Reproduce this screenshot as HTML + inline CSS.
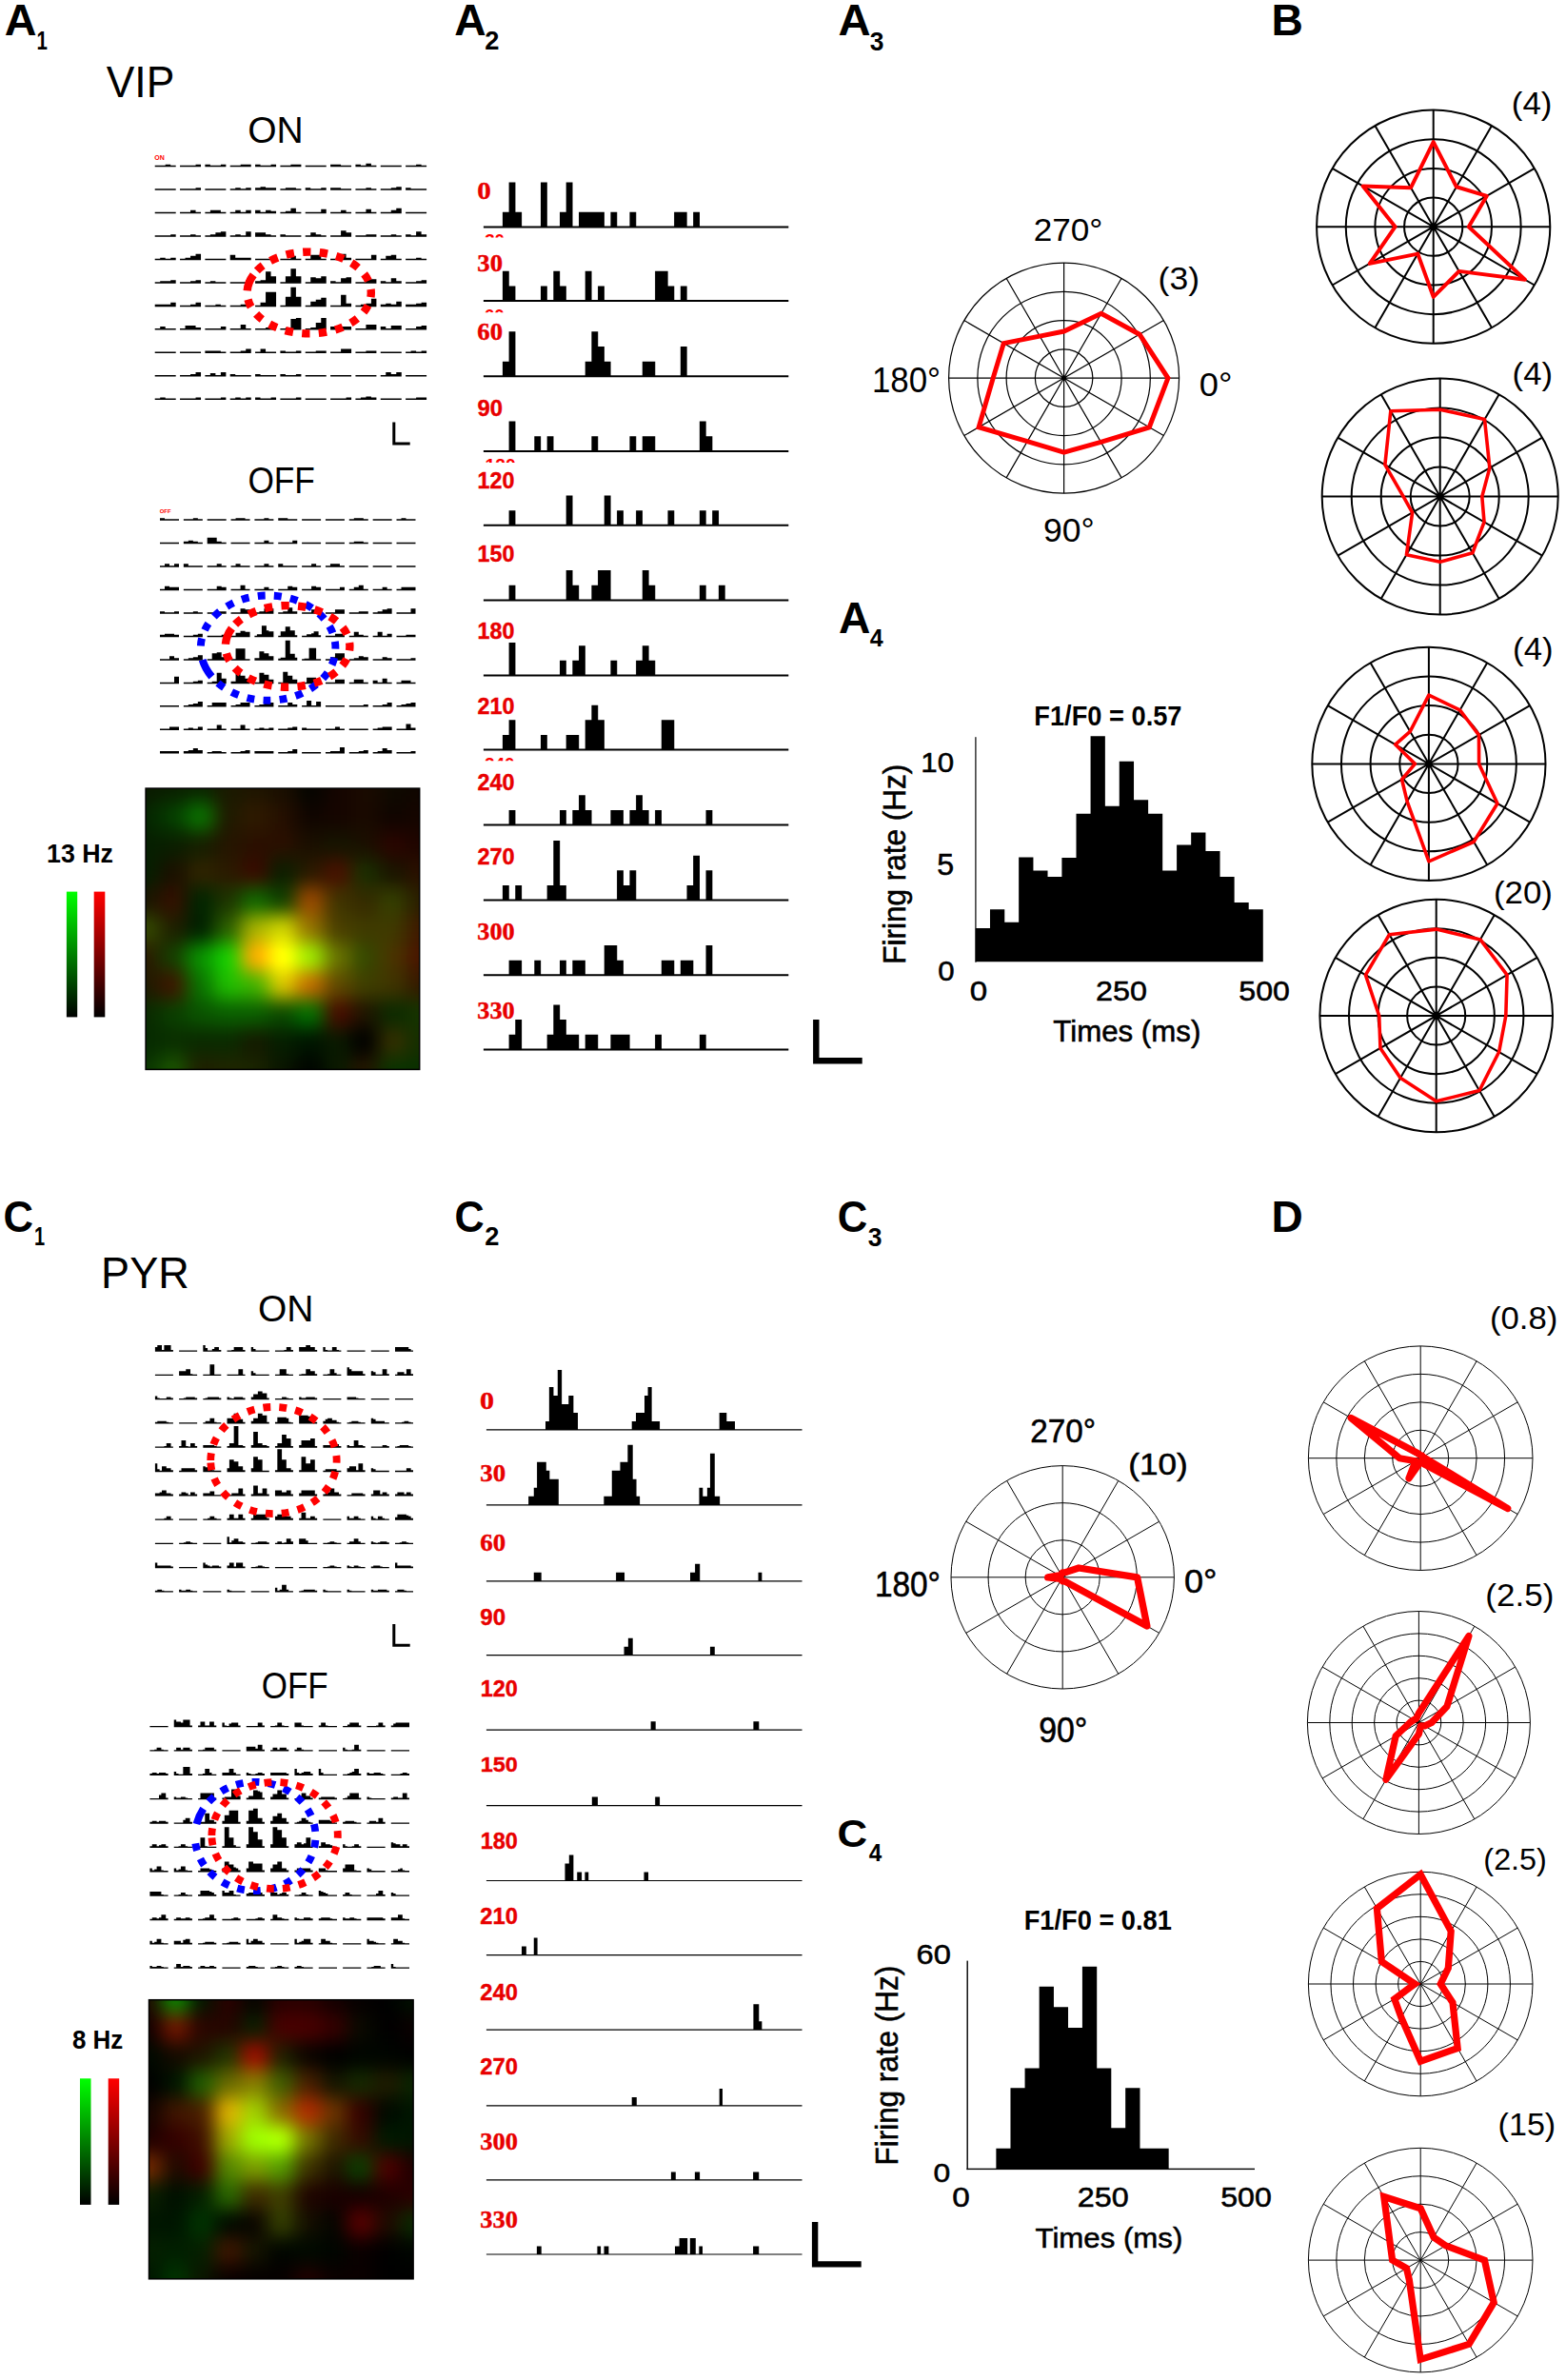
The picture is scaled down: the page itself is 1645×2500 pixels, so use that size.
<!DOCTYPE html>
<html lang="en"><head><meta charset="utf-8"><title>Figure</title>
<style>html,body{margin:0;padding:0;background:#fff}svg{display:block}</style></head>
<body>
<svg width="1645" height="2500" viewBox="0 0 1645 2500" font-family="Liberation Sans,sans-serif" shape-rendering="auto">
<rect width="1645" height="2500" fill="#fff"/>
<g id="panel-labels">
<text transform="translate(4.73 37.2) scale(0.4672 0.4536)" font-size="100" font-weight="bold">A</text>
<text transform="translate(38.47 52.4) scale(0.2043 0.2754)" font-size="100" font-weight="bold">1</text>
<text transform="translate(477.14 37.2) scale(0.4627 0.4536)" font-size="100" font-weight="bold">A</text>
<text transform="translate(509.34 52.4) scale(0.2729 0.2714)" font-size="100" font-weight="bold">2</text>
<text transform="translate(880.52 37.2) scale(0.4731 0.4536)" font-size="100" font-weight="bold">A</text>
<text transform="translate(913.84 52.53) scale(0.2646 0.2732)" font-size="100" font-weight="bold">3</text>
<text transform="translate(880.94 664.7) scale(0.4627 0.4536)" font-size="100" font-weight="bold">A</text>
<text transform="translate(913.72 679.1) scale(0.2505 0.2551)" font-size="100" font-weight="bold">4</text>
<text transform="translate(1335.6 37.2) scale(0.4623 0.4536)" font-size="100" font-weight="bold">B</text>
<text transform="translate(3.45 1294.04) scale(0.4366 0.4620)" font-size="100" font-weight="bold">C</text>
<text transform="translate(36 1308.3) scale(0.2000 0.2754)" font-size="100" font-weight="bold">1</text>
<text transform="translate(477.57 1294.04) scale(0.4321 0.4620)" font-size="100" font-weight="bold">C</text>
<text transform="translate(509.34 1308.3) scale(0.2729 0.2714)" font-size="100" font-weight="bold">2</text>
<text transform="translate(879.65 1294.04) scale(0.4366 0.4620)" font-size="100" font-weight="bold">C</text>
<text transform="translate(911.74 1308.73) scale(0.2646 0.2676)" font-size="100" font-weight="bold">3</text>
<text transform="translate(879.45 1940.49) scale(0.4382 0.4056)" font-size="100" font-weight="bold">C</text>
<text transform="translate(912.64 1954.9) scale(0.2430 0.2638)" font-size="100" font-weight="bold">4</text>
<text transform="translate(1335.41 1294.1) scale(0.4602 0.4696)" font-size="100" font-weight="bold">D</text>
</g>
<g id="titles">
<text transform="translate(111.78 101.7) scale(0.4437 0.4594)" font-size="100">VIP</text>
<text transform="translate(260.24 149.81) scale(0.3905 0.3887)" font-size="100">ON</text>
<text transform="translate(260.41 517.81) scale(0.3525 0.3887)" font-size="100">OFF</text>
<text transform="translate(106.1 1353.1) scale(0.4503 0.4551)" font-size="100">PYR</text>
<text transform="translate(271.05 1388.31) scale(0.3898 0.3901)" font-size="100">ON</text>
<text transform="translate(274.73 1784.32) scale(0.3499 0.3817)" font-size="100">OFF</text>
<text transform="translate(48.99 905.72) scale(0.2680 0.2817)" font-size="100" font-weight="bold">13 Hz</text>
<text transform="translate(75.92 2152.43) scale(0.2598 0.2704)" font-size="100" font-weight="bold">8 Hz</text>
<text transform="translate(162.22 167.63) scale(0.0703 0.0662)" font-size="100" font-weight="bold" fill="#f00">ON</text>
<text transform="translate(167.77 538.64) scale(0.0587 0.0606)" font-size="100" font-weight="bold" fill="#f00">OFF</text>
</g>
<path id="grid-A_ON" d="M162.7 173.75h22v1.5h-22zM173.7 172.75h5.5v2.5h-5.5zM189.04 173.75h22v1.5h-22zM205.54 172.75h5.5v2.5h-5.5zM215.38 173.75h22v1.5h-22zM215.38 172.75h5.5v2.5h-5.5zM231.88 172.75h5.5v2.5h-5.5zM241.72 173.75h22v1.5h-22zM252.72 172.75h11v2.5h-11zM268.06 173.75h22v1.5h-22zM268.06 172.75h5.5v2.5h-5.5zM284.56 172.75h5.5v2.5h-5.5zM294.4 173.75h22v1.5h-22zM305.4 172.75h11v2.5h-11zM320.74 173.75h22v1.5h-22zM347.08 173.75h22v1.5h-22zM347.08 172.75h11v2.5h-11zM373.42 173.75h22v1.5h-22zM373.42 172.75h5.5v2.5h-5.5zM384.42 171.75h5.5v3.5h-5.5zM399.76 173.75h22v1.5h-22zM426.1 173.75h22v1.5h-22zM437.1 172.75h5.5v2.5h-5.5zM162.7 198.23h22v1.5h-22zM189.04 198.23h22v1.5h-22zM205.54 197.23h5.5v2.5h-5.5zM215.38 198.23h22v1.5h-22zM241.72 198.23h22v1.5h-22zM247.22 197.23h5.5v2.5h-5.5zM258.22 197.23h5.5v2.5h-5.5zM268.06 198.23h22v1.5h-22zM268.06 197.23h5.5v2.5h-5.5zM273.56 196.23h5.5v3.5h-5.5zM279.06 197.23h11v2.5h-11zM294.4 198.23h22v1.5h-22zM299.9 197.23h11v2.5h-11zM320.74 198.23h22v1.5h-22zM320.74 197.23h5.5v2.5h-5.5zM337.24 197.23h5.5v2.5h-5.5zM347.08 198.23h22v1.5h-22zM347.08 197.23h11v2.5h-11zM373.42 198.23h22v1.5h-22zM384.42 197.23h5.5v2.5h-5.5zM399.76 198.23h22v1.5h-22zM410.76 197.23h5.5v2.5h-5.5zM416.26 196.23h5.5v3.5h-5.5zM426.1 198.23h22v1.5h-22zM426.1 197.23h5.5v2.5h-5.5zM162.7 222.71h22v1.5h-22zM189.04 222.71h22v1.5h-22zM200.04 220.71h5.5v3.5h-5.5zM215.38 222.71h22v1.5h-22zM220.88 220.71h11v3.5h-11zM241.72 222.71h22v1.5h-22zM247.22 220.71h5.5v3.5h-5.5zM258.22 220.71h5.5v3.5h-5.5zM268.06 222.71h22v1.5h-22zM268.06 220.71h5.5v3.5h-5.5zM279.06 220.71h5.5v3.5h-5.5zM284.56 221.71h5.5v2.5h-5.5zM294.4 222.71h22v1.5h-22zM299.9 221.71h5.5v2.5h-5.5zM305.4 218.71h5.5v5.5h-5.5zM320.74 222.71h22v1.5h-22zM337.24 219.71h5.5v4.5h-5.5zM347.08 222.71h22v1.5h-22zM358.08 220.71h5.5v3.5h-5.5zM373.42 222.71h22v1.5h-22zM384.42 219.71h5.5v4.5h-5.5zM399.76 222.71h22v1.5h-22zM410.76 220.71h5.5v3.5h-5.5zM416.26 218.71h5.5v5.5h-5.5zM426.1 222.71h22v1.5h-22zM162.7 247.19h22v1.5h-22zM179.2 246.19h5.5v2.5h-5.5zM189.04 247.19h22v1.5h-22zM200.04 246.19h5.5v2.5h-5.5zM215.38 247.19h22v1.5h-22zM220.88 246.19h5.5v2.5h-5.5zM226.38 244.19h5.5v4.5h-5.5zM231.88 243.19h5.5v5.5h-5.5zM241.72 247.19h22v1.5h-22zM247.22 246.19h5.5v2.5h-5.5zM258.22 243.19h5.5v5.5h-5.5zM268.06 247.19h22v1.5h-22zM268.06 244.19h11v4.5h-11zM279.06 246.19h5.5v2.5h-5.5zM294.4 247.19h22v1.5h-22zM294.4 246.19h5.5v2.5h-5.5zM320.74 247.19h22v1.5h-22zM326.24 244.19h5.5v4.5h-5.5zM331.74 246.19h5.5v2.5h-5.5zM347.08 247.19h22v1.5h-22zM358.08 242.19h5.5v6.5h-5.5zM363.58 244.19h5.5v4.5h-5.5zM373.42 247.19h22v1.5h-22zM384.42 246.19h11v2.5h-11zM399.76 247.19h22v1.5h-22zM410.76 246.19h5.5v2.5h-5.5zM426.1 247.19h22v1.5h-22zM426.1 246.19h5.5v2.5h-5.5zM437.1 243.19h5.5v5.5h-5.5zM442.6 246.19h5.5v2.5h-5.5zM162.7 271.67h22v1.5h-22zM168.2 270.67h5.5v2.5h-5.5zM179.2 270.67h5.5v2.5h-5.5zM189.04 271.67h22v1.5h-22zM194.54 270.67h5.5v2.5h-5.5zM200.04 268.67h5.5v4.5h-5.5zM205.54 266.67h5.5v6.5h-5.5zM215.38 271.67h22v1.5h-22zM241.72 271.67h22v1.5h-22zM241.72 267.67h5.5v5.5h-5.5zM247.22 270.67h16.5v2.5h-16.5zM268.06 271.67h22v1.5h-22zM294.4 271.67h22v1.5h-22zM305.4 268.67h5.5v4.5h-5.5zM320.74 271.67h22v1.5h-22zM326.24 267.67h11v5.5h-11zM347.08 271.67h22v1.5h-22zM358.08 266.67h5.5v6.5h-5.5zM363.58 270.67h5.5v2.5h-5.5zM373.42 271.67h22v1.5h-22zM389.92 267.67h5.5v5.5h-5.5zM399.76 271.67h22v1.5h-22zM405.26 268.67h5.5v4.5h-5.5zM410.76 267.67h5.5v5.5h-5.5zM426.1 271.67h22v1.5h-22zM437.1 270.67h5.5v2.5h-5.5zM162.7 296.15h22v1.5h-22zM168.2 295.15h11v2.5h-11zM179.2 294.15h5.5v3.5h-5.5zM189.04 296.15h22v1.5h-22zM200.04 295.15h5.5v2.5h-5.5zM205.54 294.15h5.5v3.5h-5.5zM215.38 296.15h22v1.5h-22zM220.88 295.15h5.5v2.5h-5.5zM241.72 296.15h22v1.5h-22zM258.22 294.15h5.5v3.5h-5.5zM268.06 296.15h22v1.5h-22zM268.06 295.15h5.5v2.5h-5.5zM273.56 294.15h5.5v3.5h-5.5zM279.06 285.15h5.5v12.5h-5.5zM284.56 290.15h5.5v7.5h-5.5zM294.4 296.15h22v1.5h-22zM299.9 290.15h5.5v7.5h-5.5zM305.4 282.15h5.5v15.5h-5.5zM310.9 290.15h5.5v7.5h-5.5zM320.74 296.15h22v1.5h-22zM326.24 291.15h5.5v6.5h-5.5zM331.74 292.15h5.5v5.5h-5.5zM337.24 290.15h5.5v7.5h-5.5zM347.08 296.15h22v1.5h-22zM347.08 295.15h5.5v2.5h-5.5zM358.08 292.15h5.5v5.5h-5.5zM363.58 291.15h5.5v6.5h-5.5zM373.42 296.15h22v1.5h-22zM384.42 293.15h11v4.5h-11zM399.76 296.15h22v1.5h-22zM399.76 295.15h5.5v2.5h-5.5zM410.76 292.15h5.5v5.5h-5.5zM416.26 295.15h5.5v2.5h-5.5zM426.1 296.15h22v1.5h-22zM437.1 295.15h5.5v2.5h-5.5zM442.6 294.15h5.5v3.5h-5.5zM162.7 320.63h22v1.5h-22zM162.7 319.63h16.5v2.5h-16.5zM179.2 317.63h5.5v4.5h-5.5zM189.04 320.63h22v1.5h-22zM200.04 319.63h5.5v2.5h-5.5zM205.54 317.63h5.5v4.5h-5.5zM215.38 320.63h22v1.5h-22zM226.38 319.63h5.5v2.5h-5.5zM241.72 320.63h22v1.5h-22zM252.72 319.63h11v2.5h-11zM268.06 320.63h22v1.5h-22zM273.56 317.63h5.5v4.5h-5.5zM279.06 306.63h11v15.5h-11zM294.4 320.63h22v1.5h-22zM299.9 311.63h5.5v10.5h-5.5zM305.4 301.63h5.5v20.5h-5.5zM310.9 311.63h5.5v10.5h-5.5zM320.74 320.63h22v1.5h-22zM326.24 316.63h5.5v5.5h-5.5zM331.74 314.63h5.5v7.5h-5.5zM337.24 312.63h5.5v9.5h-5.5zM347.08 320.63h22v1.5h-22zM358.08 309.63h5.5v12.5h-5.5zM363.58 318.63h5.5v3.5h-5.5zM373.42 320.63h22v1.5h-22zM378.92 319.63h5.5v2.5h-5.5zM384.42 318.63h5.5v3.5h-5.5zM389.92 313.63h5.5v8.5h-5.5zM399.76 320.63h22v1.5h-22zM399.76 319.63h5.5v2.5h-5.5zM405.26 318.63h5.5v3.5h-5.5zM410.76 319.63h5.5v2.5h-5.5zM416.26 316.63h5.5v5.5h-5.5zM426.1 320.63h22v1.5h-22zM426.1 319.63h11v2.5h-11zM437.1 318.63h5.5v3.5h-5.5zM442.6 317.63h5.5v4.5h-5.5zM162.7 345.11h22v1.5h-22zM168.2 343.11h5.5v3.5h-5.5zM189.04 345.11h22v1.5h-22zM194.54 342.11h11v4.5h-11zM205.54 344.11h5.5v2.5h-5.5zM215.38 345.11h22v1.5h-22zM231.88 343.11h5.5v3.5h-5.5zM241.72 345.11h22v1.5h-22zM252.72 341.11h5.5v5.5h-5.5zM268.06 345.11h22v1.5h-22zM279.06 344.11h5.5v2.5h-5.5zM284.56 342.11h5.5v4.5h-5.5zM294.4 345.11h22v1.5h-22zM299.9 344.11h5.5v2.5h-5.5zM305.4 335.11h5.5v11.5h-5.5zM310.9 334.11h5.5v12.5h-5.5zM320.74 345.11h22v1.5h-22zM326.24 344.11h5.5v2.5h-5.5zM331.74 339.11h5.5v7.5h-5.5zM337.24 334.11h5.5v12.5h-5.5zM347.08 345.11h22v1.5h-22zM347.08 343.11h5.5v3.5h-5.5zM358.08 343.11h11v3.5h-11zM373.42 345.11h22v1.5h-22zM384.42 341.11h11v5.5h-11zM399.76 345.11h22v1.5h-22zM399.76 343.11h5.5v3.5h-5.5zM410.76 342.11h11v4.5h-11zM426.1 345.11h22v1.5h-22zM437.1 343.11h5.5v3.5h-5.5zM442.6 342.11h5.5v4.5h-5.5zM162.7 369.59h22v1.5h-22zM189.04 369.59h22v1.5h-22zM215.38 369.59h22v1.5h-22zM215.38 368.59h16.5v2.5h-16.5zM241.72 369.59h22v1.5h-22zM252.72 368.59h5.5v2.5h-5.5zM258.22 366.59h5.5v4.5h-5.5zM268.06 369.59h22v1.5h-22zM273.56 366.59h5.5v4.5h-5.5zM294.4 369.59h22v1.5h-22zM294.4 368.59h5.5v2.5h-5.5zM310.9 368.59h5.5v2.5h-5.5zM320.74 369.59h22v1.5h-22zM331.74 368.59h11v2.5h-11zM347.08 369.59h22v1.5h-22zM358.08 366.59h11v4.5h-11zM373.42 369.59h22v1.5h-22zM384.42 368.59h11v2.5h-11zM399.76 369.59h22v1.5h-22zM426.1 369.59h22v1.5h-22zM431.6 368.59h5.5v2.5h-5.5zM442.6 368.59h5.5v2.5h-5.5zM162.7 394.07h22v1.5h-22zM189.04 394.07h22v1.5h-22zM200.04 393.07h5.5v2.5h-5.5zM205.54 391.07h5.5v4.5h-5.5zM215.38 394.07h22v1.5h-22zM220.88 392.07h5.5v3.5h-5.5zM231.88 391.07h5.5v4.5h-5.5zM241.72 394.07h22v1.5h-22zM241.72 393.07h5.5v2.5h-5.5zM268.06 394.07h22v1.5h-22zM268.06 393.07h5.5v2.5h-5.5zM294.4 394.07h22v1.5h-22zM294.4 393.07h5.5v2.5h-5.5zM310.9 393.07h5.5v2.5h-5.5zM320.74 394.07h22v1.5h-22zM347.08 394.07h22v1.5h-22zM373.42 394.07h22v1.5h-22zM399.76 394.07h22v1.5h-22zM405.26 391.07h5.5v4.5h-5.5zM410.76 393.07h5.5v2.5h-5.5zM416.26 391.07h5.5v4.5h-5.5zM426.1 394.07h22v1.5h-22zM162.7 418.55h22v1.5h-22zM168.2 417.55h5.5v2.5h-5.5zM189.04 418.55h22v1.5h-22zM205.54 417.55h5.5v2.5h-5.5zM215.38 418.55h22v1.5h-22zM231.88 417.55h5.5v2.5h-5.5zM241.72 418.55h22v1.5h-22zM247.22 417.55h5.5v2.5h-5.5zM258.22 417.55h5.5v2.5h-5.5zM268.06 418.55h22v1.5h-22zM268.06 417.55h5.5v2.5h-5.5zM284.56 417.55h5.5v2.5h-5.5zM294.4 418.55h22v1.5h-22zM310.9 417.55h5.5v2.5h-5.5zM320.74 418.55h22v1.5h-22zM347.08 418.55h22v1.5h-22zM363.58 417.55h5.5v2.5h-5.5zM373.42 418.55h22v1.5h-22zM378.92 417.55h5.5v2.5h-5.5zM384.42 416.55h5.5v3.5h-5.5zM389.92 417.55h5.5v2.5h-5.5zM399.76 418.55h22v1.5h-22zM426.1 418.55h22v1.5h-22zM437.1 417.55h11v2.5h-11z"/>
<path id="grid-A_OFF" d="M168 545.35h20v1.5h-20zM168 544.35h5v2.5h-5zM192.85 545.35h20v1.5h-20zM202.85 544.35h5v2.5h-5zM217.7 545.35h20v1.5h-20zM242.55 545.35h20v1.5h-20zM247.55 544.35h10v2.5h-10zM267.4 545.35h20v1.5h-20zM277.4 544.35h5v2.5h-5zM292.25 545.35h20v1.5h-20zM292.25 544.35h10v2.5h-10zM317.1 545.35h20v1.5h-20zM341.95 545.35h20v1.5h-20zM366.8 545.35h20v1.5h-20zM371.8 544.35h10v2.5h-10zM391.65 545.35h20v1.5h-20zM416.5 545.35h20v1.5h-20zM421.5 544.35h5v2.5h-5zM168 569.82h20v1.5h-20zM192.85 569.82h20v1.5h-20zM192.85 568.82h5v2.5h-5zM197.85 567.82h5v3.5h-5zM202.85 568.82h5v2.5h-5zM217.7 569.82h20v1.5h-20zM217.7 564.82h10v6.5h-10zM227.7 568.82h5v2.5h-5zM242.55 569.82h20v1.5h-20zM267.4 569.82h20v1.5h-20zM277.4 567.82h5v3.5h-5zM292.25 569.82h20v1.5h-20zM307.25 567.82h5v3.5h-5zM317.1 569.82h20v1.5h-20zM341.95 569.82h20v1.5h-20zM366.8 569.82h20v1.5h-20zM371.8 568.82h10v2.5h-10zM391.65 569.82h20v1.5h-20zM416.5 569.82h20v1.5h-20zM168 594.29h20v1.5h-20zM173 592.29h5v3.5h-5zM183 592.29h5v3.5h-5zM192.85 594.29h20v1.5h-20zM192.85 592.29h5v3.5h-5zM217.7 594.29h20v1.5h-20zM227.7 592.29h5v3.5h-5zM242.55 594.29h20v1.5h-20zM247.55 592.29h5v3.5h-5zM267.4 594.29h20v1.5h-20zM277.4 592.29h5v3.5h-5zM292.25 594.29h20v1.5h-20zM292.25 592.29h5v3.5h-5zM317.1 594.29h20v1.5h-20zM327.1 592.29h5v3.5h-5zM341.95 594.29h20v1.5h-20zM346.95 592.29h10v3.5h-10zM366.8 594.29h20v1.5h-20zM391.65 594.29h20v1.5h-20zM416.5 594.29h20v1.5h-20zM168 618.76h20v1.5h-20zM173 615.76h5v4.5h-5zM178 616.76h10v3.5h-10zM192.85 618.76h20v1.5h-20zM217.7 618.76h20v1.5h-20zM227.7 615.76h5v4.5h-5zM232.7 616.76h5v3.5h-5zM242.55 618.76h20v1.5h-20zM252.55 614.76h5v5.5h-5zM267.4 618.76h20v1.5h-20zM277.4 616.76h5v3.5h-5zM292.25 618.76h20v1.5h-20zM302.25 615.76h5v4.5h-5zM307.25 616.76h5v3.5h-5zM317.1 618.76h20v1.5h-20zM327.1 615.76h5v4.5h-5zM332.1 616.76h5v3.5h-5zM341.95 618.76h20v1.5h-20zM356.95 616.76h5v3.5h-5zM366.8 618.76h20v1.5h-20zM371.8 616.76h5v3.5h-5zM376.8 614.76h5v5.5h-5zM391.65 618.76h20v1.5h-20zM401.65 616.76h5v3.5h-5zM416.5 618.76h20v1.5h-20zM421.5 616.76h15v3.5h-15zM168 643.23h20v1.5h-20zM168 642.23h5v2.5h-5zM183 642.23h5v2.5h-5zM192.85 643.23h20v1.5h-20zM202.85 642.23h5v2.5h-5zM217.7 643.23h20v1.5h-20zM227.7 642.23h10v2.5h-10zM242.55 643.23h20v1.5h-20zM252.55 639.23h5v5.5h-5zM257.55 640.23h5v4.5h-5zM267.4 643.23h20v1.5h-20zM272.4 642.23h5v2.5h-5zM277.4 639.23h10v5.5h-10zM292.25 643.23h20v1.5h-20zM297.25 642.23h5v2.5h-5zM302.25 638.23h5v6.5h-5zM307.25 642.23h5v2.5h-5zM317.1 643.23h20v1.5h-20zM327.1 640.23h10v4.5h-10zM341.95 643.23h20v1.5h-20zM351.95 640.23h10v4.5h-10zM366.8 643.23h20v1.5h-20zM376.8 642.23h10v2.5h-10zM391.65 643.23h20v1.5h-20zM396.65 642.23h5v2.5h-5zM401.65 640.23h5v4.5h-5zM406.65 639.23h5v5.5h-5zM416.5 643.23h20v1.5h-20zM431.5 639.23h5v5.5h-5zM168 667.7h20v1.5h-20zM168 666.7h5v2.5h-5zM173 665.7h10v3.5h-10zM183 666.7h5v2.5h-5zM192.85 667.7h20v1.5h-20zM202.85 666.7h5v2.5h-5zM207.85 665.7h5v3.5h-5zM217.7 667.7h20v1.5h-20zM232.7 666.7h5v2.5h-5zM242.55 667.7h20v1.5h-20zM247.55 664.7h5v4.5h-5zM252.55 662.7h5v6.5h-5zM257.55 663.7h5v5.5h-5zM267.4 667.7h20v1.5h-20zM269.9 666.25h5v2.95h-5zM274.9 657.25h5v11.95h-5zM279.9 662.25h2.5v6.95h-2.5zM282.4 663.25h5v5.95h-5zM292.25 667.7h20v1.5h-20zM294.75 663.25h5v5.95h-5zM299.75 658.25h5v10.95h-5zM304.75 662.25h5v6.95h-5zM309.75 667.25h2.5v1.95h-2.5zM317.1 667.7h20v1.5h-20zM322.1 666.25h5v2.95h-5zM327.1 665.25h2.5v3.95h-2.5zM329.6 663.25h5v5.95h-5zM334.6 667.25h2.5v1.95h-2.5zM341.95 667.7h20v1.5h-20zM351.95 665.7h10v3.5h-10zM366.8 667.7h20v1.5h-20zM371.8 663.7h5v5.5h-5zM376.8 666.7h5v2.5h-5zM391.65 667.7h20v1.5h-20zM396.65 663.7h5v5.5h-5zM406.65 665.7h5v3.5h-5zM416.5 667.7h20v1.5h-20zM426.5 666.7h10v2.5h-10zM168 692.17h20v1.5h-20zM178 689.17h5v4.5h-5zM183 691.17h5v2.5h-5zM192.85 692.17h20v1.5h-20zM197.85 691.17h5v2.5h-5zM202.85 690.17h5v3.5h-5zM207.85 688.17h5v5.5h-5zM217.7 692.17h20v1.5h-20zM222.7 686.17h5v7.5h-5zM227.7 685.17h5v8.5h-5zM232.7 690.17h5v3.5h-5zM242.55 692.17h20v1.5h-20zM247.55 681.17h10v12.5h-10zM267.4 692.17h20v1.5h-20zM267.4 691.17h5v2.5h-5zM272.4 684.17h5v9.5h-5zM277.4 686.17h5v7.5h-5zM282.4 689.17h5v4.5h-5zM292.25 692.17h20v1.5h-20zM292.25 691.72h2.5v1.95h-2.5zM294.75 690.72h5v2.95h-5zM299.75 672.72h5v20.95h-5zM304.75 686.72h5v6.95h-5zM309.75 690.72h2.5v2.95h-2.5zM317.1 692.17h20v1.5h-20zM319.6 691.72h5v1.95h-5zM324.6 680.72h7.5v12.95h-7.5zM341.95 692.17h20v1.5h-20zM346.95 690.17h5v3.5h-5zM351.95 686.17h10v7.5h-10zM366.8 692.17h20v1.5h-20zM371.8 691.17h5v2.5h-5zM376.8 689.17h5v4.5h-5zM381.8 690.17h5v3.5h-5zM391.65 692.17h20v1.5h-20zM401.65 690.17h5v3.5h-5zM406.65 691.17h5v2.5h-5zM416.5 692.17h20v1.5h-20zM431.5 691.17h5v2.5h-5zM168 716.64h20v1.5h-20zM183 710.64h5v7.5h-5zM192.85 716.64h20v1.5h-20zM202.85 715.64h5v2.5h-5zM207.85 714.64h5v3.5h-5zM217.7 716.64h20v1.5h-20zM222.7 715.64h5v2.5h-5zM227.7 706.64h5v11.5h-5zM232.7 712.64h5v5.5h-5zM242.55 716.64h20v1.5h-20zM242.55 715.64h5v2.5h-5zM247.55 706.64h5v11.5h-5zM252.55 709.64h5v8.5h-5zM257.55 712.64h5v5.5h-5zM267.4 716.64h20v1.5h-20zM272.4 706.64h5v11.5h-5zM277.4 708.64h5v9.5h-5zM282.4 713.64h5v4.5h-5zM292.25 716.64h20v1.5h-20zM297.25 705.64h5v12.5h-5zM302.25 709.64h5v8.5h-5zM307.25 713.64h5v4.5h-5zM317.1 716.64h20v1.5h-20zM322.1 711.64h10v6.5h-10zM332.1 715.64h5v2.5h-5zM341.95 716.64h20v1.5h-20zM351.95 713.64h10v4.5h-10zM366.8 716.64h20v1.5h-20zM371.8 713.64h10v4.5h-10zM391.65 716.64h20v1.5h-20zM391.65 714.64h5v3.5h-5zM401.65 712.64h5v5.5h-5zM416.5 716.64h20v1.5h-20zM421.5 714.64h10v3.5h-10zM168 741.11h20v1.5h-20zM192.85 741.11h20v1.5h-20zM197.85 740.11h5v2.5h-5zM202.85 739.11h5v3.5h-5zM207.85 737.11h5v5.5h-5zM217.7 741.11h20v1.5h-20zM222.7 738.11h15v4.5h-15zM242.55 741.11h20v1.5h-20zM247.55 740.11h5v2.5h-5zM252.55 738.11h10v4.5h-10zM267.4 741.11h20v1.5h-20zM272.4 740.11h5v2.5h-5zM277.4 738.11h10v4.5h-10zM292.25 741.11h20v1.5h-20zM302.25 738.11h5v4.5h-5zM307.25 740.11h5v2.5h-5zM317.1 741.11h20v1.5h-20zM322.1 736.11h5v6.5h-5zM332.1 737.11h5v5.5h-5zM341.95 741.11h20v1.5h-20zM366.8 741.11h20v1.5h-20zM381.8 740.11h5v2.5h-5zM391.65 741.11h20v1.5h-20zM401.65 740.11h5v2.5h-5zM406.65 738.11h5v4.5h-5zM416.5 741.11h20v1.5h-20zM421.5 740.11h5v2.5h-5zM426.5 739.11h5v3.5h-5zM431.5 738.11h5v4.5h-5zM168 765.58h20v1.5h-20zM178 763.58h10v3.5h-10zM192.85 765.58h20v1.5h-20zM197.85 764.58h5v2.5h-5zM207.85 763.58h5v3.5h-5zM217.7 765.58h20v1.5h-20zM227.7 761.58h5v5.5h-5zM242.55 765.58h20v1.5h-20zM252.55 761.58h5v5.5h-5zM267.4 765.58h20v1.5h-20zM272.4 764.58h5v2.5h-5zM282.4 764.58h5v2.5h-5zM292.25 765.58h20v1.5h-20zM302.25 764.58h5v2.5h-5zM307.25 763.58h5v3.5h-5zM317.1 765.58h20v1.5h-20zM317.1 764.58h5v2.5h-5zM341.95 765.58h20v1.5h-20zM351.95 763.58h5v3.5h-5zM366.8 765.58h20v1.5h-20zM391.65 765.58h20v1.5h-20zM396.65 764.58h5v2.5h-5zM401.65 763.58h10v3.5h-10zM416.5 765.58h20v1.5h-20zM426.5 760.58h5v6.5h-5zM431.5 764.58h5v2.5h-5zM168 790.05h20v1.5h-20zM168 789.05h20v2.5h-20zM192.85 790.05h20v1.5h-20zM192.85 789.05h5v2.5h-5zM197.85 788.05h5v3.5h-5zM202.85 786.05h5v5.5h-5zM207.85 788.05h5v3.5h-5zM217.7 790.05h20v1.5h-20zM222.7 789.05h10v2.5h-10zM242.55 790.05h20v1.5h-20zM252.55 789.05h5v2.5h-5zM257.55 788.05h5v3.5h-5zM267.4 790.05h20v1.5h-20zM267.4 789.05h20v2.5h-20zM292.25 790.05h20v1.5h-20zM302.25 789.05h5v2.5h-5zM307.25 787.05h5v4.5h-5zM317.1 790.05h20v1.5h-20zM341.95 790.05h20v1.5h-20zM346.95 789.05h10v2.5h-10zM356.95 785.05h5v6.5h-5zM366.8 790.05h20v1.5h-20zM376.8 789.05h5v2.5h-5zM381.8 788.05h5v3.5h-5zM391.65 790.05h20v1.5h-20zM396.65 789.05h5v2.5h-5zM401.65 786.05h5v5.5h-5zM406.65 788.05h5v3.5h-5zM416.5 790.05h20v1.5h-20zM431.5 789.05h5v2.5h-5z"/>
<path id="grid-C_ON" d="M162.9 1418.45h19v1.3h-19zM162.9 1414.9h2.38v4.85h-2.38zM165.28 1412.9h4.75v6.85h-4.75zM170.03 1417.9h2.38v1.85h-2.38zM172.4 1412.9h7.12v6.85h-7.12zM179.53 1417.9h2.38v1.85h-2.38zM188.11 1418.45h19v1.3h-19zM213.32 1418.45h19v1.3h-19zM213.32 1412.9h2.38v6.85h-2.38zM215.69 1415.9h2.38v3.85h-2.38zM222.82 1416.9h2.38v2.85h-2.38zM225.19 1414.9h4.75v4.85h-4.75zM229.94 1417.9h2.38v1.85h-2.38zM238.53 1418.45h19v1.3h-19zM243.28 1417.9h2.38v1.85h-2.38zM245.66 1414.9h9.5v4.85h-9.5zM255.16 1417.9h2.38v1.85h-2.38zM263.74 1418.45h19v1.3h-19zM263.74 1414.9h2.38v4.85h-2.38zM266.12 1416.9h2.38v2.85h-2.38zM288.95 1418.45h19v1.3h-19zM298.45 1417.9h2.38v1.85h-2.38zM300.83 1414.9h4.75v4.85h-4.75zM305.58 1417.9h2.38v1.85h-2.38zM314.16 1418.45h19v1.3h-19zM314.16 1414.9h7.12v4.85h-7.12zM321.28 1412.9h4.75v6.85h-4.75zM326.03 1414.9h4.75v4.85h-4.75zM330.78 1417.9h2.38v1.85h-2.38zM339.37 1418.45h19v1.3h-19zM339.37 1414.9h2.38v4.85h-2.38zM341.75 1417.9h2.38v1.85h-2.38zM348.87 1414.9h4.75v4.85h-4.75zM353.62 1417.9h2.38v1.85h-2.38zM364.58 1418.45h19v1.3h-19zM389.79 1418.45h19v1.3h-19zM415 1418.45h19v1.3h-19zM415 1414.9h14.25v4.85h-14.25zM429.25 1416.9h2.38v2.85h-2.38zM162.9 1443.73h19v1.3h-19zM188.11 1443.73h19v1.3h-19zM188.11 1440.18h7.12v4.85h-7.12zM195.24 1438.18h4.75v6.85h-4.75zM199.99 1443.18h2.38v1.85h-2.38zM213.32 1443.73h19v1.3h-19zM220.44 1433.18h4.75v11.85h-4.75zM238.53 1443.73h19v1.3h-19zM250.41 1438.18h4.75v6.85h-4.75zM263.74 1443.73h19v1.3h-19zM263.74 1440.18h2.38v4.85h-2.38zM266.12 1442.18h2.38v2.85h-2.38zM288.95 1443.73h19v1.3h-19zM293.7 1438.18h7.12v6.85h-7.12zM300.83 1443.18h2.38v1.85h-2.38zM314.16 1443.73h19v1.3h-19zM316.53 1443.18h4.75v1.85h-4.75zM321.28 1438.18h4.75v6.85h-4.75zM326.03 1440.18h4.75v4.85h-4.75zM330.78 1443.18h2.38v1.85h-2.38zM339.37 1443.73h19v1.3h-19zM344.12 1443.18h2.38v1.85h-2.38zM346.5 1438.18h4.75v6.85h-4.75zM351.25 1442.18h2.38v2.85h-2.38zM364.58 1443.73h19v1.3h-19zM364.58 1436.18h2.38v8.85h-2.38zM366.96 1438.18h2.38v6.85h-2.38zM369.33 1440.18h11.88v4.85h-11.88zM381.21 1443.18h2.38v1.85h-2.38zM389.79 1443.73h19v1.3h-19zM389.79 1440.18h2.38v4.85h-2.38zM392.17 1441.18h2.38v3.85h-2.38zM401.67 1438.18h4.75v6.85h-4.75zM406.42 1443.18h2.38v1.85h-2.38zM415 1443.73h19v1.3h-19zM417.38 1441.18h7.12v3.85h-7.12zM424.5 1443.18h2.38v1.85h-2.38zM426.88 1438.18h4.75v6.85h-4.75zM431.62 1443.18h2.38v1.85h-2.38zM162.9 1469.01h19v1.3h-19zM162.9 1466.46h2.38v3.85h-2.38zM165.28 1468.46h2.38v1.85h-2.38zM174.78 1467.46h4.75v2.85h-4.75zM179.53 1468.46h2.38v1.85h-2.38zM188.11 1469.01h19v1.3h-19zM192.86 1468.46h2.38v1.85h-2.38zM195.24 1467.46h9.5v2.85h-9.5zM204.74 1468.46h2.38v1.85h-2.38zM213.32 1469.01h19v1.3h-19zM215.69 1468.46h2.38v1.85h-2.38zM218.07 1467.46h11.88v2.85h-11.88zM229.94 1468.46h2.38v1.85h-2.38zM238.53 1469.01h19v1.3h-19zM238.53 1467.46h2.38v2.85h-2.38zM240.91 1468.46h2.38v1.85h-2.38zM245.66 1467.46h9.5v2.85h-9.5zM255.16 1468.46h2.38v1.85h-2.38zM263.74 1469.01h19v1.3h-19zM263.74 1467.46h2.38v2.85h-2.38zM266.12 1464.46h4.75v5.85h-4.75zM270.87 1461.46h4.75v8.85h-4.75zM275.62 1463.46h4.75v6.85h-4.75zM280.37 1468.46h2.38v1.85h-2.38zM288.95 1469.01h19v1.3h-19zM296.08 1467.46h4.75v2.85h-4.75zM300.83 1468.46h2.38v1.85h-2.38zM314.16 1469.01h19v1.3h-19zM314.16 1467.46h2.38v2.85h-2.38zM316.53 1468.46h4.75v1.85h-4.75zM321.28 1467.46h9.5v2.85h-9.5zM330.78 1468.46h2.38v1.85h-2.38zM339.37 1469.01h19v1.3h-19zM364.58 1469.01h19v1.3h-19zM364.58 1467.46h9.5v2.85h-9.5zM374.08 1468.46h2.38v1.85h-2.38zM389.79 1469.01h19v1.3h-19zM415 1469.01h19v1.3h-19zM162.9 1494.29h19v1.3h-19zM162.9 1493.74h2.38v1.85h-2.38zM165.28 1492.74h9.5v2.85h-9.5zM174.78 1493.74h2.38v1.85h-2.38zM188.11 1494.29h19v1.3h-19zM213.32 1494.29h19v1.3h-19zM215.69 1492.74h4.75v2.85h-4.75zM220.44 1489.74h4.75v5.85h-4.75zM225.19 1493.74h2.38v1.85h-2.38zM238.53 1494.29h19v1.3h-19zM238.53 1489.74h7.12v5.85h-7.12zM245.66 1484.74h4.75v10.85h-4.75zM250.41 1490.74h4.75v4.85h-4.75zM255.16 1493.74h2.38v1.85h-2.38zM263.74 1494.29h19v1.3h-19zM263.74 1492.74h2.38v2.85h-2.38zM266.12 1489.74h4.75v5.85h-4.75zM270.87 1484.74h4.75v10.85h-4.75zM275.62 1486.74h4.75v8.85h-4.75zM280.37 1493.74h2.38v1.85h-2.38zM288.95 1494.29h19v1.3h-19zM288.95 1493.74h2.38v1.85h-2.38zM291.33 1488.74h9.5v6.85h-9.5zM300.83 1489.74h2.38v5.85h-2.38zM303.2 1493.74h2.38v1.85h-2.38zM314.16 1494.29h19v1.3h-19zM314.16 1486.74h9.5v8.85h-9.5zM323.66 1487.74h2.38v7.85h-2.38zM326.03 1489.74h2.38v5.85h-2.38zM328.41 1492.74h2.38v2.85h-2.38zM330.78 1493.74h2.38v1.85h-2.38zM339.37 1494.29h19v1.3h-19zM339.37 1492.74h2.38v2.85h-2.38zM341.75 1490.74h2.38v4.85h-2.38zM344.12 1489.74h4.75v5.85h-4.75zM348.87 1491.74h4.75v3.85h-4.75zM353.62 1493.74h2.38v1.85h-2.38zM364.58 1494.29h19v1.3h-19zM366.96 1493.74h2.38v1.85h-2.38zM369.33 1492.74h7.12v2.85h-7.12zM376.46 1493.74h2.38v1.85h-2.38zM389.79 1494.29h19v1.3h-19zM389.79 1489.74h2.38v5.85h-2.38zM392.17 1490.74h2.38v4.85h-2.38zM394.54 1492.74h9.5v2.85h-9.5zM415 1494.29h19v1.3h-19zM422.12 1493.74h2.38v1.85h-2.38zM424.5 1492.74h4.75v2.85h-4.75zM429.25 1493.74h2.38v1.85h-2.38zM162.9 1519.57h19v1.3h-19zM172.4 1519.02h2.38v1.85h-2.38zM174.78 1516.02h4.75v4.85h-4.75zM188.11 1519.57h19v1.3h-19zM188.11 1519.02h2.38v1.85h-2.38zM190.49 1513.02h4.75v7.85h-4.75zM195.24 1519.02h2.38v1.85h-2.38zM199.99 1516.02h4.75v4.85h-4.75zM204.74 1519.02h2.38v1.85h-2.38zM213.32 1519.57h19v1.3h-19zM213.32 1518.02h11.88v2.85h-11.88zM225.19 1519.02h2.38v1.85h-2.38zM238.53 1519.57h19v1.3h-19zM238.53 1519.02h2.38v1.85h-2.38zM240.91 1516.02h4.75v4.85h-4.75zM245.66 1498.02h4.75v22.85h-4.75zM250.41 1518.02h4.75v2.85h-4.75zM255.16 1519.02h2.38v1.85h-2.38zM263.74 1519.57h19v1.3h-19zM263.74 1518.02h2.38v2.85h-2.38zM266.12 1504.02h4.75v16.85h-4.75zM270.87 1516.02h4.75v4.85h-4.75zM275.62 1518.02h4.75v2.85h-4.75zM280.37 1519.02h2.38v1.85h-2.38zM288.95 1519.57h19v1.3h-19zM288.95 1519.02h2.38v1.85h-2.38zM291.33 1516.02h4.75v4.85h-4.75zM296.08 1507.02h4.75v13.85h-4.75zM300.83 1511.02h4.75v9.85h-4.75zM305.58 1519.02h2.38v1.85h-2.38zM314.16 1519.57h19v1.3h-19zM314.16 1518.02h2.38v2.85h-2.38zM316.53 1513.02h9.5v7.85h-9.5zM326.03 1511.02h4.75v9.85h-4.75zM330.78 1519.02h2.38v1.85h-2.38zM339.37 1519.57h19v1.3h-19zM339.37 1518.02h9.5v2.85h-9.5zM348.87 1517.02h2.38v3.85h-2.38zM351.25 1516.02h2.38v4.85h-2.38zM353.62 1517.02h2.38v3.85h-2.38zM356 1519.02h2.38v1.85h-2.38zM364.58 1519.57h19v1.3h-19zM364.58 1518.02h2.38v2.85h-2.38zM366.96 1519.02h4.75v1.85h-4.75zM371.71 1513.02h4.75v7.85h-4.75zM376.46 1518.02h4.75v2.85h-4.75zM381.21 1519.02h2.38v1.85h-2.38zM389.79 1519.57h19v1.3h-19zM401.67 1518.02h4.75v2.85h-4.75zM406.42 1519.02h2.38v1.85h-2.38zM415 1519.57h19v1.3h-19zM417.38 1519.02h2.38v1.85h-2.38zM419.75 1518.02h9.5v2.85h-9.5zM429.25 1519.02h2.38v1.85h-2.38zM162.9 1544.85h19v1.3h-19zM162.9 1537.3h2.38v8.85h-2.38zM165.28 1543.3h2.38v2.85h-2.38zM170.03 1540.3h4.75v5.85h-4.75zM174.78 1542.3h4.75v3.85h-4.75zM179.53 1544.3h2.38v1.85h-2.38zM188.11 1544.85h19v1.3h-19zM190.49 1542.3h14.25v3.85h-14.25zM204.74 1544.3h2.38v1.85h-2.38zM213.32 1544.85h19v1.3h-19zM213.32 1540.3h2.38v5.85h-2.38zM215.69 1541.3h2.38v4.85h-2.38zM218.07 1542.3h4.75v3.85h-4.75zM222.82 1544.3h2.38v1.85h-2.38zM238.53 1544.85h19v1.3h-19zM238.53 1542.3h2.38v3.85h-2.38zM240.91 1533.3h4.75v12.85h-4.75zM245.66 1535.3h4.75v10.85h-4.75zM250.41 1540.3h4.75v5.85h-4.75zM255.16 1544.3h2.38v1.85h-2.38zM263.74 1544.85h19v1.3h-19zM263.74 1542.3h2.38v3.85h-2.38zM266.12 1530.3h4.75v15.85h-4.75zM270.87 1533.3h4.75v12.85h-4.75zM288.95 1544.85h19v1.3h-19zM288.95 1544.3h2.38v1.85h-2.38zM291.33 1522.3h4.75v23.85h-4.75zM296.08 1533.3h4.75v12.85h-4.75zM300.83 1542.3h4.75v3.85h-4.75zM305.58 1544.3h2.38v1.85h-2.38zM314.16 1544.85h19v1.3h-19zM314.16 1544.3h2.38v1.85h-2.38zM316.53 1530.3h4.75v15.85h-4.75zM321.28 1537.3h4.75v8.85h-4.75zM326.03 1533.3h4.75v12.85h-4.75zM330.78 1544.3h2.38v1.85h-2.38zM339.37 1544.85h19v1.3h-19zM341.75 1543.3h11.88v2.85h-11.88zM364.58 1544.85h19v1.3h-19zM364.58 1542.3h2.38v3.85h-2.38zM366.96 1540.3h7.12v5.85h-7.12zM374.08 1544.3h2.38v1.85h-2.38zM376.46 1537.3h4.75v8.85h-4.75zM381.21 1544.3h2.38v1.85h-2.38zM389.79 1544.85h19v1.3h-19zM389.79 1542.3h2.38v3.85h-2.38zM392.17 1543.3h2.38v2.85h-2.38zM415 1544.85h19v1.3h-19zM426.88 1542.3h4.75v3.85h-4.75zM431.62 1544.3h2.38v1.85h-2.38zM162.9 1570.13h19v1.3h-19zM162.9 1568.58h4.75v2.85h-4.75zM167.65 1567.58h2.38v3.85h-2.38zM170.03 1565.58h4.75v5.85h-4.75zM174.78 1568.58h4.75v2.85h-4.75zM179.53 1569.58h2.38v1.85h-2.38zM188.11 1570.13h19v1.3h-19zM188.11 1569.58h2.38v1.85h-2.38zM190.49 1567.58h4.75v3.85h-4.75zM195.24 1568.58h2.38v2.85h-2.38zM199.99 1567.58h4.75v3.85h-4.75zM204.74 1569.58h2.38v1.85h-2.38zM213.32 1570.13h19v1.3h-19zM213.32 1568.58h7.12v2.85h-7.12zM220.44 1566.58h4.75v4.85h-4.75zM238.53 1570.13h19v1.3h-19zM243.28 1568.58h7.12v2.85h-7.12zM250.41 1563.58h4.75v7.85h-4.75zM255.16 1569.58h2.38v1.85h-2.38zM263.74 1570.13h19v1.3h-19zM263.74 1569.58h2.38v1.85h-2.38zM266.12 1560.58h4.75v10.85h-4.75zM270.87 1568.58h4.75v2.85h-4.75zM275.62 1563.58h4.75v7.85h-4.75zM280.37 1569.58h2.38v1.85h-2.38zM288.95 1570.13h19v1.3h-19zM288.95 1565.58h7.12v5.85h-7.12zM296.08 1567.58h4.75v3.85h-4.75zM300.83 1565.58h4.75v5.85h-4.75zM305.58 1569.58h2.38v1.85h-2.38zM314.16 1570.13h19v1.3h-19zM314.16 1568.58h2.38v2.85h-2.38zM316.53 1565.58h14.25v5.85h-14.25zM330.78 1569.58h2.38v1.85h-2.38zM339.37 1570.13h19v1.3h-19zM339.37 1569.58h2.38v1.85h-2.38zM341.75 1567.58h4.75v3.85h-4.75zM346.5 1563.58h4.75v7.85h-4.75zM351.25 1567.58h4.75v3.85h-4.75zM356 1569.58h2.38v1.85h-2.38zM364.58 1570.13h19v1.3h-19zM369.33 1568.58h11.88v2.85h-11.88zM381.21 1569.58h2.38v1.85h-2.38zM389.79 1570.13h19v1.3h-19zM389.79 1569.58h2.38v1.85h-2.38zM392.17 1565.58h7.12v5.85h-7.12zM399.29 1569.58h2.38v1.85h-2.38zM401.67 1567.58h4.75v3.85h-4.75zM406.42 1569.58h2.38v1.85h-2.38zM415 1570.13h19v1.3h-19zM415 1569.58h2.38v1.85h-2.38zM417.38 1567.58h7.12v3.85h-7.12zM424.5 1569.58h2.38v1.85h-2.38zM426.88 1567.58h4.75v3.85h-4.75zM431.62 1569.58h2.38v1.85h-2.38zM162.9 1595.41h19v1.3h-19zM172.4 1594.86h2.38v1.85h-2.38zM174.78 1592.86h4.75v3.85h-4.75zM188.11 1595.41h19v1.3h-19zM213.32 1595.41h19v1.3h-19zM218.07 1594.86h2.38v1.85h-2.38zM220.44 1592.86h4.75v3.85h-4.75zM225.19 1594.86h2.38v1.85h-2.38zM238.53 1595.41h19v1.3h-19zM238.53 1594.86h2.38v1.85h-2.38zM240.91 1590.86h4.75v5.85h-4.75zM245.66 1594.86h4.75v1.85h-4.75zM250.41 1590.86h4.75v5.85h-4.75zM255.16 1594.86h2.38v1.85h-2.38zM263.74 1595.41h19v1.3h-19zM263.74 1594.86h2.38v1.85h-2.38zM266.12 1590.86h14.25v5.85h-14.25zM280.37 1594.86h2.38v1.85h-2.38zM288.95 1595.41h19v1.3h-19zM288.95 1592.86h2.38v3.85h-2.38zM291.33 1590.86h7.12v5.85h-7.12zM298.45 1592.86h7.12v3.85h-7.12zM305.58 1594.86h2.38v1.85h-2.38zM314.16 1595.41h19v1.3h-19zM314.16 1594.86h2.38v1.85h-2.38zM316.53 1588.86h4.75v7.85h-4.75zM321.28 1594.86h4.75v1.85h-4.75zM326.03 1592.86h4.75v3.85h-4.75zM330.78 1594.86h2.38v1.85h-2.38zM339.37 1595.41h19v1.3h-19zM364.58 1595.41h19v1.3h-19zM364.58 1592.86h2.38v3.85h-2.38zM366.96 1594.86h4.75v1.85h-4.75zM371.71 1592.86h4.75v3.85h-4.75zM376.46 1594.86h2.38v1.85h-2.38zM389.79 1595.41h19v1.3h-19zM389.79 1592.86h2.38v3.85h-2.38zM392.17 1594.86h2.38v1.85h-2.38zM396.92 1592.86h4.75v3.85h-4.75zM401.67 1594.86h2.38v1.85h-2.38zM415 1595.41h19v1.3h-19zM415 1593.86h2.38v2.85h-2.38zM417.38 1590.86h9.5v5.85h-9.5zM426.88 1591.86h2.38v4.85h-2.38zM429.25 1592.86h2.38v3.85h-2.38zM431.62 1594.86h2.38v1.85h-2.38zM162.9 1620.69h19v1.3h-19zM188.11 1620.69h19v1.3h-19zM192.86 1620.14h2.38v1.85h-2.38zM195.24 1619.14h4.75v2.85h-4.75zM199.99 1620.14h2.38v1.85h-2.38zM213.32 1620.69h19v1.3h-19zM238.53 1620.69h19v1.3h-19zM238.53 1614.14h2.38v7.85h-2.38zM240.91 1620.14h2.38v1.85h-2.38zM243.28 1618.14h2.38v3.85h-2.38zM245.66 1616.14h4.75v5.85h-4.75zM250.41 1619.14h4.75v2.85h-4.75zM255.16 1620.14h2.38v1.85h-2.38zM263.74 1620.69h19v1.3h-19zM268.49 1620.14h2.38v1.85h-2.38zM270.87 1619.14h9.5v2.85h-9.5zM280.37 1620.14h2.38v1.85h-2.38zM288.95 1620.69h19v1.3h-19zM291.33 1619.14h4.75v2.85h-4.75zM298.45 1620.14h2.38v1.85h-2.38zM300.83 1616.14h4.75v5.85h-4.75zM305.58 1619.14h2.38v2.85h-2.38zM314.16 1620.69h19v1.3h-19zM314.16 1616.14h7.12v5.85h-7.12zM321.28 1618.14h2.38v3.85h-2.38zM339.37 1620.69h19v1.3h-19zM344.12 1620.14h2.38v1.85h-2.38zM346.5 1619.14h4.75v2.85h-4.75zM351.25 1620.14h2.38v1.85h-2.38zM364.58 1620.69h19v1.3h-19zM366.96 1619.14h4.75v2.85h-4.75zM371.71 1616.14h4.75v5.85h-4.75zM376.46 1619.14h2.38v2.85h-2.38zM389.79 1620.69h19v1.3h-19zM389.79 1619.14h2.38v2.85h-2.38zM392.17 1620.14h2.38v1.85h-2.38zM396.92 1620.14h2.38v1.85h-2.38zM399.29 1619.14h7.12v2.85h-7.12zM406.42 1620.14h2.38v1.85h-2.38zM415 1620.69h19v1.3h-19zM419.75 1620.14h2.38v1.85h-2.38zM422.12 1619.14h4.75v2.85h-4.75zM426.88 1620.14h2.38v1.85h-2.38zM162.9 1645.97h19v1.3h-19zM162.9 1641.42h2.38v5.85h-2.38zM165.28 1644.42h14.25v2.85h-14.25zM179.53 1645.42h2.38v1.85h-2.38zM188.11 1645.97h19v1.3h-19zM213.32 1645.97h19v1.3h-19zM213.32 1641.42h2.38v5.85h-2.38zM215.69 1643.42h2.38v3.85h-2.38zM218.07 1644.42h2.38v2.85h-2.38zM220.44 1645.42h2.38v1.85h-2.38zM222.82 1644.42h7.12v2.85h-7.12zM229.94 1645.42h2.38v1.85h-2.38zM238.53 1645.97h19v1.3h-19zM238.53 1644.42h2.38v2.85h-2.38zM240.91 1641.42h4.75v5.85h-4.75zM245.66 1645.42h2.38v1.85h-2.38zM248.03 1641.42h7.12v5.85h-7.12zM255.16 1645.42h2.38v1.85h-2.38zM263.74 1645.97h19v1.3h-19zM268.49 1645.42h2.38v1.85h-2.38zM270.87 1644.42h4.75v2.85h-4.75zM275.62 1645.42h2.38v1.85h-2.38zM288.95 1645.97h19v1.3h-19zM314.16 1645.97h19v1.3h-19zM339.37 1645.97h19v1.3h-19zM344.12 1645.42h2.38v1.85h-2.38zM346.5 1644.42h4.75v2.85h-4.75zM351.25 1645.42h2.38v1.85h-2.38zM364.58 1645.97h19v1.3h-19zM364.58 1644.42h2.38v2.85h-2.38zM366.96 1645.42h2.38v1.85h-2.38zM371.71 1644.42h4.75v2.85h-4.75zM376.46 1645.42h2.38v1.85h-2.38zM389.79 1645.97h19v1.3h-19zM389.79 1645.42h2.38v1.85h-2.38zM392.17 1644.42h7.12v2.85h-7.12zM399.29 1645.42h2.38v1.85h-2.38zM415 1645.97h19v1.3h-19zM415 1641.42h2.38v5.85h-2.38zM417.38 1644.42h14.25v2.85h-14.25zM431.62 1645.42h2.38v1.85h-2.38zM162.9 1671.25h19v1.3h-19zM162.9 1670.7h2.38v1.85h-2.38zM165.28 1669.7h4.75v2.85h-4.75zM170.03 1670.7h2.38v1.85h-2.38zM188.11 1671.25h19v1.3h-19zM188.11 1669.7h2.38v2.85h-2.38zM190.49 1670.7h4.75v1.85h-4.75zM195.24 1669.7h4.75v2.85h-4.75zM199.99 1670.7h2.38v1.85h-2.38zM213.32 1671.25h19v1.3h-19zM238.53 1671.25h19v1.3h-19zM238.53 1669.7h2.38v2.85h-2.38zM240.91 1670.7h2.38v1.85h-2.38zM263.74 1671.25h19v1.3h-19zM288.95 1671.25h19v1.3h-19zM288.95 1667.7h2.38v4.85h-2.38zM291.33 1670.7h2.38v1.85h-2.38zM293.7 1669.7h2.38v2.85h-2.38zM296.08 1664.7h4.75v7.85h-4.75zM300.83 1669.7h2.38v2.85h-2.38zM314.16 1671.25h19v1.3h-19zM316.53 1670.7h2.38v1.85h-2.38zM318.91 1669.7h11.88v2.85h-11.88zM330.78 1670.7h2.38v1.85h-2.38zM339.37 1671.25h19v1.3h-19zM339.37 1669.7h2.38v2.85h-2.38zM341.75 1670.7h2.38v1.85h-2.38zM364.58 1671.25h19v1.3h-19zM364.58 1669.7h2.38v2.85h-2.38zM366.96 1670.7h2.38v1.85h-2.38zM389.79 1671.25h19v1.3h-19zM389.79 1669.7h2.38v2.85h-2.38zM392.17 1670.7h4.75v1.85h-4.75zM396.92 1669.7h9.5v2.85h-9.5zM406.42 1670.7h2.38v1.85h-2.38zM415 1671.25h19v1.3h-19zM417.38 1669.7h7.12v2.85h-7.12zM424.5 1670.7h2.38v1.85h-2.38z"/>
<path id="grid-C_OFF" d="M157.4 1812.95h19.2v1.3h-19.2zM182.74 1812.95h19.2v1.3h-19.2zM182.74 1806.4h2.4v7.85h-2.4zM185.14 1808.4h4.8v5.85h-4.8zM189.94 1809.4h2.4v4.85h-2.4zM192.34 1806.4h7.2v7.85h-7.2zM199.54 1812.4h2.4v1.85h-2.4zM208.08 1812.95h19.2v1.3h-19.2zM208.08 1812.4h2.4v1.85h-2.4zM210.48 1808.4h4.8v5.85h-4.8zM215.28 1812.4h4.8v1.85h-4.8zM220.08 1808.4h4.8v5.85h-4.8zM224.88 1812.4h2.4v1.85h-2.4zM233.42 1812.95h19.2v1.3h-19.2zM233.42 1809.4h2.4v4.85h-2.4zM235.82 1812.4h2.4v1.85h-2.4zM240.62 1810.4h2.4v3.85h-2.4zM243.02 1809.4h7.2v4.85h-7.2zM250.22 1812.4h2.4v1.85h-2.4zM258.76 1812.95h19.2v1.3h-19.2zM270.76 1809.4h4.8v4.85h-4.8zM275.56 1812.4h2.4v1.85h-2.4zM284.1 1812.95h19.2v1.3h-19.2zM288.9 1812.4h2.4v1.85h-2.4zM291.3 1809.4h4.8v4.85h-4.8zM296.1 1812.4h2.4v1.85h-2.4zM309.44 1812.95h19.2v1.3h-19.2zM309.44 1809.4h7.2v4.85h-7.2zM316.64 1812.4h2.4v1.85h-2.4zM334.78 1812.95h19.2v1.3h-19.2zM334.78 1812.4h2.4v1.85h-2.4zM337.18 1809.4h4.8v4.85h-4.8zM341.98 1812.4h2.4v1.85h-2.4zM360.12 1812.95h19.2v1.3h-19.2zM364.92 1811.4h2.4v2.85h-2.4zM367.32 1809.4h9.6v4.85h-9.6zM376.92 1812.4h2.4v1.85h-2.4zM385.46 1812.95h19.2v1.3h-19.2zM395.06 1812.4h2.4v1.85h-2.4zM397.46 1809.4h4.8v4.85h-4.8zM402.26 1812.4h2.4v1.85h-2.4zM410.8 1812.95h19.2v1.3h-19.2zM410.8 1812.4h2.4v1.85h-2.4zM413.2 1810.4h2.4v3.85h-2.4zM415.6 1809.4h14.4v4.85h-14.4zM157.4 1838.31h19.2v1.3h-19.2zM162.2 1837.76h2.4v1.85h-2.4zM164.6 1835.76h4.8v3.85h-4.8zM169.4 1837.76h2.4v1.85h-2.4zM182.74 1838.31h19.2v1.3h-19.2zM185.14 1835.76h4.8v3.85h-4.8zM189.94 1837.76h2.4v1.85h-2.4zM192.34 1835.76h7.2v3.85h-7.2zM199.54 1837.76h2.4v1.85h-2.4zM208.08 1838.31h19.2v1.3h-19.2zM212.88 1837.76h2.4v1.85h-2.4zM215.28 1835.76h9.6v3.85h-9.6zM224.88 1837.76h2.4v1.85h-2.4zM233.42 1838.31h19.2v1.3h-19.2zM258.76 1838.31h19.2v1.3h-19.2zM258.76 1834.76h9.6v4.85h-9.6zM268.36 1836.76h2.4v2.85h-2.4zM270.76 1832.76h4.8v6.85h-4.8zM275.56 1837.76h2.4v1.85h-2.4zM284.1 1838.31h19.2v1.3h-19.2zM286.5 1835.76h4.8v3.85h-4.8zM291.3 1837.76h2.4v1.85h-2.4zM293.7 1835.76h7.2v3.85h-7.2zM300.9 1837.76h2.4v1.85h-2.4zM309.44 1838.31h19.2v1.3h-19.2zM309.44 1837.76h2.4v1.85h-2.4zM311.84 1835.76h4.8v3.85h-4.8zM316.64 1837.76h2.4v1.85h-2.4zM334.78 1838.31h19.2v1.3h-19.2zM360.12 1838.31h19.2v1.3h-19.2zM360.12 1835.76h2.4v3.85h-2.4zM362.52 1837.76h2.4v1.85h-2.4zM369.72 1837.76h2.4v1.85h-2.4zM372.12 1832.76h4.8v6.85h-4.8zM376.92 1837.76h2.4v1.85h-2.4zM385.46 1838.31h19.2v1.3h-19.2zM410.8 1838.31h19.2v1.3h-19.2zM157.4 1863.67h19.2v1.3h-19.2zM157.4 1863.12h2.4v1.85h-2.4zM159.8 1862.12h4.8v2.85h-4.8zM164.6 1863.12h2.4v1.85h-2.4zM167 1862.12h7.2v2.85h-7.2zM174.2 1863.12h2.4v1.85h-2.4zM182.74 1863.67h19.2v1.3h-19.2zM182.74 1861.12h2.4v3.85h-2.4zM185.14 1863.12h2.4v1.85h-2.4zM192.34 1856.12h7.2v8.85h-7.2zM199.54 1863.12h2.4v1.85h-2.4zM208.08 1863.67h19.2v1.3h-19.2zM212.88 1863.12h2.4v1.85h-2.4zM215.28 1858.12h4.8v6.85h-4.8zM220.08 1862.12h2.4v2.85h-2.4zM233.42 1863.67h19.2v1.3h-19.2zM233.42 1862.12h7.2v2.85h-7.2zM240.62 1858.12h4.8v6.85h-4.8zM245.42 1862.12h2.4v2.85h-2.4zM258.76 1863.67h19.2v1.3h-19.2zM258.76 1862.12h2.4v2.85h-2.4zM261.16 1863.12h2.4v1.85h-2.4zM268.36 1863.12h2.4v1.85h-2.4zM270.76 1862.12h4.8v2.85h-4.8zM275.56 1863.12h2.4v1.85h-2.4zM284.1 1863.67h19.2v1.3h-19.2zM284.1 1862.12h16.8v2.85h-16.8zM300.9 1863.12h2.4v1.85h-2.4zM309.44 1863.67h19.2v1.3h-19.2zM309.44 1858.12h2.4v6.85h-2.4zM311.84 1862.12h2.4v2.85h-2.4zM314.24 1863.12h2.4v1.85h-2.4zM316.64 1862.12h2.4v2.85h-2.4zM319.04 1861.12h7.2v3.85h-7.2zM326.24 1863.12h2.4v1.85h-2.4zM334.78 1863.67h19.2v1.3h-19.2zM334.78 1858.12h2.4v6.85h-2.4zM337.18 1862.12h2.4v2.85h-2.4zM360.12 1863.67h19.2v1.3h-19.2zM364.92 1863.12h2.4v1.85h-2.4zM367.32 1862.12h2.4v2.85h-2.4zM369.72 1861.12h2.4v3.85h-2.4zM372.12 1858.12h4.8v6.85h-4.8zM376.92 1863.12h2.4v1.85h-2.4zM385.46 1863.67h19.2v1.3h-19.2zM385.46 1862.12h2.4v2.85h-2.4zM387.86 1863.12h4.8v1.85h-4.8zM392.66 1862.12h7.2v2.85h-7.2zM399.86 1863.12h2.4v1.85h-2.4zM410.8 1863.67h19.2v1.3h-19.2zM420.4 1863.12h2.4v1.85h-2.4zM422.8 1862.12h4.8v2.85h-4.8zM427.6 1863.12h2.4v1.85h-2.4zM157.4 1889.03h19.2v1.3h-19.2zM167 1885.48h2.4v4.85h-2.4zM169.4 1883.48h4.8v6.85h-4.8zM174.2 1888.48h2.4v1.85h-2.4zM182.74 1889.03h19.2v1.3h-19.2zM182.74 1887.48h2.4v2.85h-2.4zM185.14 1888.48h4.8v1.85h-4.8zM189.94 1887.48h4.8v2.85h-4.8zM194.74 1888.48h2.4v1.85h-2.4zM208.08 1889.03h19.2v1.3h-19.2zM210.48 1883.48h14.4v6.85h-14.4zM224.88 1888.48h2.4v1.85h-2.4zM233.42 1889.03h19.2v1.3h-19.2zM233.42 1888.48h2.4v1.85h-2.4zM235.82 1887.48h7.2v2.85h-7.2zM243.02 1879.48h4.8v10.85h-4.8zM247.82 1884.48h2.4v5.85h-2.4zM250.22 1886.48h2.4v3.85h-2.4zM258.76 1889.03h19.2v1.3h-19.2zM258.76 1888.48h2.4v1.85h-2.4zM261.16 1886.48h4.8v3.85h-4.8zM265.96 1880.48h4.8v9.85h-4.8zM270.76 1881.48h2.4v8.85h-2.4zM273.16 1882.48h2.4v7.85h-2.4zM275.56 1888.48h2.4v1.85h-2.4zM284.1 1889.03h19.2v1.3h-19.2zM284.1 1887.48h2.4v2.85h-2.4zM286.5 1884.48h4.8v5.85h-4.8zM291.3 1880.48h4.8v9.85h-4.8zM296.1 1884.48h4.8v5.85h-4.8zM300.9 1888.48h2.4v1.85h-2.4zM309.44 1889.03h19.2v1.3h-19.2zM314.24 1886.48h2.4v3.85h-2.4zM316.64 1883.48h4.8v6.85h-4.8zM321.44 1886.48h4.8v3.85h-4.8zM326.24 1888.48h2.4v1.85h-2.4zM334.78 1889.03h19.2v1.3h-19.2zM334.78 1888.48h2.4v1.85h-2.4zM337.18 1887.48h14.4v2.85h-14.4zM351.58 1888.48h2.4v1.85h-2.4zM360.12 1889.03h19.2v1.3h-19.2zM362.52 1888.48h2.4v1.85h-2.4zM364.92 1886.48h2.4v3.85h-2.4zM367.32 1883.48h9.6v6.85h-9.6zM376.92 1888.48h2.4v1.85h-2.4zM385.46 1889.03h19.2v1.3h-19.2zM385.46 1887.48h2.4v2.85h-2.4zM387.86 1888.48h2.4v1.85h-2.4zM410.8 1889.03h19.2v1.3h-19.2zM410.8 1888.48h2.4v1.85h-2.4zM413.2 1887.48h4.8v2.85h-4.8zM418 1888.48h4.8v1.85h-4.8zM422.8 1883.48h4.8v6.85h-4.8zM427.6 1888.48h2.4v1.85h-2.4zM157.4 1914.39h19.2v1.3h-19.2zM157.4 1913.84h2.4v1.85h-2.4zM159.8 1912.84h4.8v2.85h-4.8zM164.6 1913.84h2.4v1.85h-2.4zM167 1912.84h7.2v2.85h-7.2zM174.2 1913.84h2.4v1.85h-2.4zM182.74 1914.39h19.2v1.3h-19.2zM192.34 1911.84h2.4v3.85h-2.4zM194.74 1909.84h4.8v5.85h-4.8zM199.54 1913.84h2.4v1.85h-2.4zM208.08 1914.39h19.2v1.3h-19.2zM210.48 1913.84h4.8v1.85h-4.8zM215.28 1904.84h4.8v10.85h-4.8zM220.08 1911.84h4.8v3.85h-4.8zM224.88 1913.84h2.4v1.85h-2.4zM233.42 1914.39h19.2v1.3h-19.2zM233.42 1912.84h2.4v2.85h-2.4zM235.82 1906.84h4.8v8.85h-4.8zM240.62 1901.84h9.6v13.85h-9.6zM250.22 1913.84h2.4v1.85h-2.4zM258.76 1914.39h19.2v1.3h-19.2zM258.76 1912.84h2.4v2.85h-2.4zM261.16 1901.84h4.8v13.85h-4.8zM265.96 1899.84h4.8v15.85h-4.8zM270.76 1909.84h4.8v5.85h-4.8zM275.56 1913.84h2.4v1.85h-2.4zM284.1 1914.39h19.2v1.3h-19.2zM284.1 1912.84h2.4v2.85h-2.4zM286.5 1907.84h4.8v7.85h-4.8zM291.3 1904.84h4.8v10.85h-4.8zM296.1 1909.84h4.8v5.85h-4.8zM300.9 1913.84h2.4v1.85h-2.4zM309.44 1914.39h19.2v1.3h-19.2zM311.84 1913.84h2.4v1.85h-2.4zM314.24 1912.84h2.4v2.85h-2.4zM316.64 1909.84h4.8v5.85h-4.8zM321.44 1911.84h2.4v3.85h-2.4zM323.84 1913.84h2.4v1.85h-2.4zM334.78 1914.39h19.2v1.3h-19.2zM334.78 1911.84h12v3.85h-12zM346.78 1912.84h2.4v2.85h-2.4zM349.18 1913.84h2.4v1.85h-2.4zM360.12 1914.39h19.2v1.3h-19.2zM360.12 1913.84h2.4v1.85h-2.4zM362.52 1912.84h9.6v2.85h-9.6zM372.12 1913.84h2.4v1.85h-2.4zM385.46 1914.39h19.2v1.3h-19.2zM387.86 1912.84h7.2v2.85h-7.2zM395.06 1913.84h2.4v1.85h-2.4zM397.46 1909.84h4.8v5.85h-4.8zM402.26 1913.84h2.4v1.85h-2.4zM410.8 1914.39h19.2v1.3h-19.2zM157.4 1939.75h19.2v1.3h-19.2zM157.4 1939.2h2.4v1.85h-2.4zM159.8 1937.2h4.8v3.85h-4.8zM164.6 1939.2h2.4v1.85h-2.4zM167 1938.2h2.4v2.85h-2.4zM169.4 1937.2h4.8v3.85h-4.8zM174.2 1939.2h2.4v1.85h-2.4zM182.74 1939.75h19.2v1.3h-19.2zM187.54 1939.2h2.4v1.85h-2.4zM189.94 1937.2h4.8v3.85h-4.8zM194.74 1939.2h2.4v1.85h-2.4zM208.08 1939.75h19.2v1.3h-19.2zM210.48 1930.2h4.8v10.85h-4.8zM215.28 1939.2h2.4v1.85h-2.4zM233.42 1939.75h19.2v1.3h-19.2zM233.42 1939.2h2.4v1.85h-2.4zM235.82 1919.2h4.8v21.85h-4.8zM240.62 1930.2h4.8v10.85h-4.8zM245.42 1938.2h2.4v2.85h-2.4zM258.76 1939.75h19.2v1.3h-19.2zM258.76 1937.2h2.4v3.85h-2.4zM261.16 1919.2h4.8v21.85h-4.8zM265.96 1924.2h4.8v16.85h-4.8zM270.76 1932.2h4.8v8.85h-4.8zM275.56 1939.2h2.4v1.85h-2.4zM284.1 1939.75h19.2v1.3h-19.2zM284.1 1937.2h2.4v3.85h-2.4zM286.5 1919.2h4.8v21.85h-4.8zM291.3 1922.2h4.8v18.85h-4.8zM296.1 1930.2h4.8v10.85h-4.8zM300.9 1939.2h2.4v1.85h-2.4zM309.44 1939.75h19.2v1.3h-19.2zM309.44 1937.2h2.4v3.85h-2.4zM311.84 1935.2h4.8v5.85h-4.8zM316.64 1937.2h2.4v3.85h-2.4zM319.04 1936.2h2.4v4.85h-2.4zM321.44 1930.2h4.8v10.85h-4.8zM334.78 1939.75h19.2v1.3h-19.2zM334.78 1939.2h2.4v1.85h-2.4zM337.18 1935.2h4.8v5.85h-4.8zM341.98 1937.2h4.8v3.85h-4.8zM346.78 1938.2h2.4v2.85h-2.4zM360.12 1939.75h19.2v1.3h-19.2zM360.12 1937.2h2.4v3.85h-2.4zM362.52 1939.2h2.4v1.85h-2.4zM369.72 1939.2h2.4v1.85h-2.4zM372.12 1937.2h4.8v3.85h-4.8zM376.92 1939.2h2.4v1.85h-2.4zM385.46 1939.75h19.2v1.3h-19.2zM410.8 1939.75h19.2v1.3h-19.2zM410.8 1935.2h2.4v5.85h-2.4zM413.2 1936.2h2.4v4.85h-2.4zM415.6 1937.2h4.8v3.85h-4.8zM420.4 1939.2h2.4v1.85h-2.4zM422.8 1937.2h4.8v3.85h-4.8zM427.6 1939.2h2.4v1.85h-2.4zM157.4 1965.11h19.2v1.3h-19.2zM157.4 1962.56h2.4v3.85h-2.4zM159.8 1964.56h2.4v1.85h-2.4zM162.2 1963.56h2.4v2.85h-2.4zM164.6 1960.56h4.8v5.85h-4.8zM169.4 1964.56h2.4v1.85h-2.4zM182.74 1965.11h19.2v1.3h-19.2zM182.74 1962.56h2.4v3.85h-2.4zM185.14 1964.56h2.4v1.85h-2.4zM187.54 1963.56h2.4v2.85h-2.4zM189.94 1960.56h4.8v5.85h-4.8zM194.74 1964.56h2.4v1.85h-2.4zM208.08 1965.11h19.2v1.3h-19.2zM210.48 1962.56h9.6v3.85h-9.6zM220.08 1963.56h2.4v2.85h-2.4zM222.48 1964.56h2.4v1.85h-2.4zM233.42 1965.11h19.2v1.3h-19.2zM233.42 1962.56h2.4v3.85h-2.4zM235.82 1955.56h4.8v10.85h-4.8zM240.62 1958.56h4.8v7.85h-4.8zM245.42 1961.56h2.4v4.85h-2.4zM247.82 1962.56h2.4v3.85h-2.4zM250.22 1964.56h2.4v1.85h-2.4zM258.76 1965.11h19.2v1.3h-19.2zM258.76 1962.56h2.4v3.85h-2.4zM261.16 1955.56h4.8v10.85h-4.8zM265.96 1957.56h9.6v8.85h-9.6zM275.56 1964.56h2.4v1.85h-2.4zM284.1 1965.11h19.2v1.3h-19.2zM284.1 1962.56h2.4v3.85h-2.4zM286.5 1958.56h4.8v7.85h-4.8zM291.3 1955.56h4.8v10.85h-4.8zM296.1 1962.56h4.8v3.85h-4.8zM300.9 1964.56h2.4v1.85h-2.4zM309.44 1965.11h19.2v1.3h-19.2zM309.44 1964.56h2.4v1.85h-2.4zM311.84 1962.56h14.4v3.85h-14.4zM326.24 1964.56h2.4v1.85h-2.4zM334.78 1965.11h19.2v1.3h-19.2zM334.78 1962.56h7.2v3.85h-7.2zM341.98 1964.56h2.4v1.85h-2.4zM360.12 1965.11h19.2v1.3h-19.2zM360.12 1962.56h2.4v3.85h-2.4zM362.52 1958.56h9.6v7.85h-9.6zM372.12 1964.56h2.4v1.85h-2.4zM385.46 1965.11h19.2v1.3h-19.2zM385.46 1962.56h2.4v3.85h-2.4zM387.86 1963.56h2.4v2.85h-2.4zM410.8 1965.11h19.2v1.3h-19.2zM418 1963.56h2.4v2.85h-2.4zM420.4 1962.56h2.4v3.85h-2.4zM422.8 1964.56h2.4v1.85h-2.4zM157.4 1990.47h19.2v1.3h-19.2zM157.4 1986.92h12v4.85h-12zM169.4 1989.92h2.4v1.85h-2.4zM182.74 1990.47h19.2v1.3h-19.2zM187.54 1989.92h2.4v1.85h-2.4zM189.94 1987.92h4.8v3.85h-4.8zM194.74 1989.92h2.4v1.85h-2.4zM208.08 1990.47h19.2v1.3h-19.2zM208.08 1989.92h2.4v1.85h-2.4zM210.48 1985.92h9.6v5.85h-9.6zM220.08 1986.92h2.4v4.85h-2.4zM222.48 1987.92h2.4v3.85h-2.4zM224.88 1989.92h2.4v1.85h-2.4zM233.42 1990.47h19.2v1.3h-19.2zM233.42 1985.92h2.4v5.85h-2.4zM235.82 1987.92h4.8v3.85h-4.8zM240.62 1985.92h4.8v5.85h-4.8zM245.42 1989.92h2.4v1.85h-2.4zM258.76 1990.47h19.2v1.3h-19.2zM258.76 1988.92h2.4v2.85h-2.4zM261.16 1987.92h7.2v3.85h-7.2zM268.36 1989.92h2.4v1.85h-2.4zM270.76 1987.92h4.8v3.85h-4.8zM275.56 1989.92h2.4v1.85h-2.4zM284.1 1990.47h19.2v1.3h-19.2zM284.1 1987.92h7.2v3.85h-7.2zM291.3 1989.92h2.4v1.85h-2.4zM293.7 1988.92h2.4v2.85h-2.4zM296.1 1987.92h4.8v3.85h-4.8zM300.9 1989.92h2.4v1.85h-2.4zM309.44 1990.47h19.2v1.3h-19.2zM314.24 1989.92h2.4v1.85h-2.4zM316.64 1987.92h4.8v3.85h-4.8zM321.44 1989.92h2.4v1.85h-2.4zM334.78 1990.47h19.2v1.3h-19.2zM334.78 1985.92h2.4v5.85h-2.4zM337.18 1986.92h2.4v4.85h-2.4zM339.58 1987.92h2.4v3.85h-2.4zM341.98 1988.92h2.4v2.85h-2.4zM360.12 1990.47h19.2v1.3h-19.2zM360.12 1989.92h2.4v1.85h-2.4zM362.52 1987.92h4.8v3.85h-4.8zM367.32 1989.92h2.4v1.85h-2.4zM385.46 1990.47h19.2v1.3h-19.2zM395.06 1988.92h2.4v2.85h-2.4zM397.46 1985.92h4.8v5.85h-4.8zM402.26 1989.92h2.4v1.85h-2.4zM410.8 1990.47h19.2v1.3h-19.2zM410.8 1987.92h2.4v3.85h-2.4zM413.2 1988.92h2.4v2.85h-2.4zM157.4 2015.83h19.2v1.3h-19.2zM159.8 2014.28h4.8v2.85h-4.8zM164.6 2015.28h2.4v1.85h-2.4zM167 2014.28h2.4v2.85h-2.4zM169.4 2011.28h4.8v5.85h-4.8zM174.2 2015.28h2.4v1.85h-2.4zM182.74 2015.83h19.2v1.3h-19.2zM185.14 2014.28h4.8v2.85h-4.8zM189.94 2015.28h4.8v1.85h-4.8zM194.74 2014.28h4.8v2.85h-4.8zM199.54 2015.28h2.4v1.85h-2.4zM208.08 2015.83h19.2v1.3h-19.2zM212.88 2015.28h2.4v1.85h-2.4zM215.28 2014.28h4.8v2.85h-4.8zM220.08 2011.28h4.8v5.85h-4.8zM224.88 2015.28h2.4v1.85h-2.4zM233.42 2015.83h19.2v1.3h-19.2zM243.02 2015.28h2.4v1.85h-2.4zM245.42 2014.28h4.8v2.85h-4.8zM250.22 2015.28h2.4v1.85h-2.4zM258.76 2015.83h19.2v1.3h-19.2zM268.36 2015.28h2.4v1.85h-2.4zM270.76 2014.28h4.8v2.85h-4.8zM275.56 2015.28h2.4v1.85h-2.4zM284.1 2015.83h19.2v1.3h-19.2zM286.5 2011.28h4.8v5.85h-4.8zM291.3 2014.28h4.8v2.85h-4.8zM296.1 2015.28h2.4v1.85h-2.4zM309.44 2015.83h19.2v1.3h-19.2zM309.44 2014.28h2.4v2.85h-2.4zM311.84 2015.28h2.4v1.85h-2.4zM319.04 2014.28h7.2v2.85h-7.2zM326.24 2015.28h2.4v1.85h-2.4zM334.78 2015.83h19.2v1.3h-19.2zM334.78 2015.28h2.4v1.85h-2.4zM337.18 2014.28h9.6v2.85h-9.6zM346.78 2015.28h2.4v1.85h-2.4zM360.12 2015.83h19.2v1.3h-19.2zM360.12 2014.28h2.4v2.85h-2.4zM362.52 2015.28h4.8v1.85h-4.8zM367.32 2014.28h4.8v2.85h-4.8zM372.12 2015.28h2.4v1.85h-2.4zM385.46 2015.83h19.2v1.3h-19.2zM385.46 2014.28h16.8v2.85h-16.8zM402.26 2015.28h2.4v1.85h-2.4zM410.8 2015.83h19.2v1.3h-19.2zM410.8 2014.28h7.2v2.85h-7.2zM418 2011.28h4.8v5.85h-4.8zM422.8 2015.28h2.4v1.85h-2.4zM157.4 2041.19h19.2v1.3h-19.2zM157.4 2038.64h2.4v3.85h-2.4zM159.8 2040.64h2.4v1.85h-2.4zM162.2 2039.64h2.4v2.85h-2.4zM164.6 2036.64h4.8v5.85h-4.8zM169.4 2040.64h2.4v1.85h-2.4zM182.74 2041.19h19.2v1.3h-19.2zM182.74 2038.64h7.2v3.85h-7.2zM189.94 2040.64h2.4v1.85h-2.4zM192.34 2037.64h2.4v4.85h-2.4zM194.74 2036.64h4.8v5.85h-4.8zM199.54 2040.64h2.4v1.85h-2.4zM208.08 2041.19h19.2v1.3h-19.2zM212.88 2040.64h2.4v1.85h-2.4zM215.28 2039.64h9.6v2.85h-9.6zM224.88 2040.64h2.4v1.85h-2.4zM233.42 2041.19h19.2v1.3h-19.2zM238.22 2040.64h2.4v1.85h-2.4zM240.62 2039.64h9.6v2.85h-9.6zM250.22 2040.64h2.4v1.85h-2.4zM258.76 2041.19h19.2v1.3h-19.2zM258.76 2036.64h2.4v5.85h-2.4zM261.16 2040.64h2.4v1.85h-2.4zM263.56 2038.64h2.4v3.85h-2.4zM265.96 2036.64h4.8v5.85h-4.8zM270.76 2038.64h4.8v3.85h-4.8zM275.56 2040.64h2.4v1.85h-2.4zM284.1 2041.19h19.2v1.3h-19.2zM309.44 2041.19h19.2v1.3h-19.2zM309.44 2036.64h2.4v5.85h-2.4zM311.84 2040.64h2.4v1.85h-2.4zM314.24 2039.64h2.4v2.85h-2.4zM316.64 2038.64h2.4v3.85h-2.4zM319.04 2036.64h7.2v5.85h-7.2zM326.24 2040.64h2.4v1.85h-2.4zM334.78 2041.19h19.2v1.3h-19.2zM337.18 2036.64h4.8v5.85h-4.8zM341.98 2038.64h4.8v3.85h-4.8zM346.78 2040.64h2.4v1.85h-2.4zM360.12 2041.19h19.2v1.3h-19.2zM385.46 2041.19h19.2v1.3h-19.2zM385.46 2036.64h2.4v5.85h-2.4zM387.86 2038.64h4.8v3.85h-4.8zM392.66 2039.64h2.4v2.85h-2.4zM395.06 2040.64h2.4v1.85h-2.4zM410.8 2041.19h19.2v1.3h-19.2zM413.2 2036.64h4.8v5.85h-4.8zM418 2038.64h4.8v3.85h-4.8zM422.8 2040.64h2.4v1.85h-2.4zM157.4 2066.55h19.2v1.3h-19.2zM157.4 2065h2.4v2.85h-2.4zM159.8 2066h4.8v1.85h-4.8zM164.6 2065h4.8v2.85h-4.8zM169.4 2066h2.4v1.85h-2.4zM182.74 2066.55h19.2v1.3h-19.2zM185.14 2063h4.8v4.85h-4.8zM189.94 2066h2.4v1.85h-2.4zM192.34 2065h7.2v2.85h-7.2zM199.54 2066h2.4v1.85h-2.4zM208.08 2066.55h19.2v1.3h-19.2zM210.48 2065h4.8v2.85h-4.8zM215.28 2066h4.8v1.85h-4.8zM220.08 2065h4.8v2.85h-4.8zM224.88 2066h2.4v1.85h-2.4zM233.42 2066.55h19.2v1.3h-19.2zM258.76 2066.55h19.2v1.3h-19.2zM258.76 2066h2.4v1.85h-2.4zM261.16 2065h7.2v2.85h-7.2zM268.36 2066h2.4v1.85h-2.4zM284.1 2066.55h19.2v1.3h-19.2zM288.9 2066h2.4v1.85h-2.4zM291.3 2065h4.8v2.85h-4.8zM296.1 2066h2.4v1.85h-2.4zM309.44 2066.55h19.2v1.3h-19.2zM309.44 2066h2.4v1.85h-2.4zM311.84 2065h4.8v2.85h-4.8zM316.64 2066h2.4v1.85h-2.4zM334.78 2066.55h19.2v1.3h-19.2zM360.12 2066.55h19.2v1.3h-19.2zM385.46 2066.55h19.2v1.3h-19.2zM390.26 2066h2.4v1.85h-2.4zM392.66 2065h7.2v2.85h-7.2zM410.8 2066.55h19.2v1.3h-19.2zM410.8 2063h2.4v4.85h-2.4zM413.2 2066h2.4v1.85h-2.4z"/>
<path d="M259.6 307.5A65.1 42.9 0 1 1 389.8 307.5A65.1 42.9 0 1 1 259.6 307.5" fill="none" stroke="#f00" stroke-width="8.4" stroke-dasharray="0 2.2 18.2 5.5 8.4 9.3 8.4 9.3 8.4 9.3 8.4 9.3 8.4 9.3 8.4 9.3 8.4 9.3 8.4 9.3 8.4 9.3 8.4 9.3 8.4 9.3 8.4 9.3 8.4 9.3 8.4 9.3 8.4 9.3 8.4 9.3 8.4 9.3 8.4 9.3 8.4 9.3 8.4 342.89"/>
<path d="M210.8 680.6A70.8 55.1 0 1 0 352.4 680.6A70.8 55.1 0 1 0 210.8 680.6" fill="none" stroke="#00f" stroke-width="7.9" stroke-dasharray="0 12.8 20.3 9.3 7.9 9.3 7.9 9.3 7.9 9.3 7.9 9.3 7.9 9.3 7.9 9.3 7.9 9.3 7.9 9.3 7.9 9.3 7.9 9.3 7.9 9.3 7.9 9.3 7.9 9.3 7.9 9.3 7.9 9.3 7.9 9.3 7.9 9.3 7.9 9.3 7.9 9.3 7.9 9.3 7.9 9.3 7.9 9.3 7.9 397.07"/>
<path d="M236.8 678.9A65.3 42.8 0 1 1 367.4 678.9A65.3 42.8 0 1 1 236.8 678.9" fill="none" stroke="#f00" stroke-width="8.4" stroke-dasharray="0 2.2 18.2 5.5 8.4 9.3 8.4 9.3 8.4 9.3 8.4 9.3 8.4 9.3 8.4 9.3 8.4 9.3 8.4 9.3 8.4 9.3 8.4 9.3 8.4 9.3 8.4 9.3 8.4 9.3 8.4 9.3 8.4 9.3 8.4 9.3 8.4 9.3 8.4 9.3 8.4 9.3 8.4 343.29"/>
<path d="M221.25 1534.05A66.2 56.1 0 1 1 353.65 1534.05A66.2 56.1 0 1 1 221.25 1534.05" fill="none" stroke="#f00" stroke-width="7.8" stroke-dasharray="0 0 7.8 9.2 7.8 9.2 7.8 9.2 7.8 9.2 7.8 9.2 7.8 9.2 7.8 9.2 7.8 9.2 7.8 9.2 7.8 9.2 7.8 9.2 7.8 9.2 7.8 9.2 7.8 9.2 7.8 9.2 7.8 9.2 7.8 9.2 7.8 9.2 7.8 9.2 7.8 9.2 7.8 9.2 7.8 9.2 7.8 9.2 7.8 9.2 7.8 384.87"/>
<path d="M204.8 1929A63.35 57.15 0 1 1 331.5 1929A63.35 57.15 0 1 1 204.8 1929" fill="none" stroke="#00f" stroke-width="7.8" stroke-dasharray="0 13.1 17.8 9.2 7.8 9.2 7.8 9.2 7.8 9.2 7.8 9.2 7.8 9.2 7.8 9.2 7.8 9.2 7.8 9.2 7.8 9.2 7.8 9.2 7.8 9.2 7.8 9.2 7.8 9.2 7.8 9.2 7.8 9.2 7.8 9.2 7.8 9.2 7.8 9.2 7.8 9.2 7.8 9.2 7.8 9.2 7.8 378.81"/>
<path d="M222.4 1928.1A66.2 56.1 0 1 1 354.8 1928.1A66.2 56.1 0 1 1 222.4 1928.1" fill="none" stroke="#f00" stroke-width="7.8" stroke-dasharray="0 0 7.8 9.2 7.8 9.2 7.8 9.2 7.8 9.2 7.8 9.2 7.8 9.2 7.8 9.2 7.8 9.2 7.8 9.2 7.8 9.2 7.8 9.2 7.8 9.2 7.8 9.2 7.8 9.2 7.8 9.2 7.8 9.2 7.8 9.2 7.8 9.2 7.8 9.2 7.8 9.2 7.8 9.2 7.8 9.2 7.8 9.2 7.8 9.2 7.8 384.87"/>
<path d="M413.8 443.5V465.9H430.7" fill="none" stroke="#000" stroke-width="3"/>
<path d="M413.8 1705.9V1728.3H430.7" fill="none" stroke="#000" stroke-width="3"/>
<clipPath id="clip-A"><rect x="153.1" y="828.1" width="287.6" height="295.3"/></clipPath>
<filter id="blur-A" x="-10%" y="-10%" width="120%" height="120%" color-interpolation-filters="sRGB"><feGaussianBlur stdDeviation="9.5"/><feComponentTransfer><feFuncR type="linear" slope="1.06"/><feFuncG type="linear" slope="1.06"/></feComponentTransfer></filter>
<g clip-path="url(#clip-A)"><rect x="152.1" y="827.1" width="289.6" height="297.3" fill="#000"/><g filter="url(#blur-A)">
<rect x="52.44" y="724.75" width="115.54" height="118.62" fill="#0a1900"/>
<rect x="167.48" y="724.75" width="29.26" height="118.62" fill="#0a1e00"/>
<rect x="196.24" y="724.75" width="29.26" height="118.62" fill="#0a2300"/>
<rect x="225" y="724.75" width="29.26" height="118.62" fill="#191900"/>
<rect x="253.76" y="724.75" width="29.26" height="118.62" fill="#1e1400"/>
<rect x="282.52" y="724.75" width="29.26" height="118.62" fill="#190f00"/>
<rect x="311.28" y="724.75" width="29.26" height="118.62" fill="#050500"/>
<rect x="340.04" y="724.75" width="29.26" height="118.62" fill="#140500"/>
<rect x="368.8" y="724.75" width="29.26" height="118.62" fill="#190a00"/>
<rect x="397.56" y="724.75" width="29.26" height="118.62" fill="#0f0a00"/>
<rect x="426.32" y="724.75" width="115.54" height="118.62" fill="#0f0500"/>
<rect x="52.44" y="842.87" width="115.54" height="30.03" fill="#052300"/>
<rect x="167.48" y="842.87" width="29.26" height="30.03" fill="#053c00"/>
<rect x="196.24" y="842.87" width="29.26" height="30.03" fill="#0a6e00"/>
<rect x="225" y="842.87" width="29.26" height="30.03" fill="#1e1900"/>
<rect x="253.76" y="842.87" width="29.26" height="30.03" fill="#2d1900"/>
<rect x="282.52" y="842.87" width="29.26" height="30.03" fill="#230f00"/>
<rect x="311.28" y="842.87" width="29.26" height="30.03" fill="#0f0500"/>
<rect x="340.04" y="842.87" width="29.26" height="30.03" fill="#140500"/>
<rect x="368.8" y="842.87" width="29.26" height="30.03" fill="#190a00"/>
<rect x="397.56" y="842.87" width="29.26" height="30.03" fill="#0f0500"/>
<rect x="426.32" y="842.87" width="115.54" height="30.03" fill="#140500"/>
<rect x="52.44" y="872.39" width="115.54" height="30.03" fill="#051e00"/>
<rect x="167.48" y="872.39" width="29.26" height="30.03" fill="#0a1e00"/>
<rect x="196.24" y="872.39" width="29.26" height="30.03" fill="#141e00"/>
<rect x="225" y="872.39" width="29.26" height="30.03" fill="#231400"/>
<rect x="253.76" y="872.39" width="29.26" height="30.03" fill="#280f00"/>
<rect x="282.52" y="872.39" width="29.26" height="30.03" fill="#280f00"/>
<rect x="311.28" y="872.39" width="29.26" height="30.03" fill="#190f00"/>
<rect x="340.04" y="872.39" width="29.26" height="30.03" fill="#141400"/>
<rect x="368.8" y="872.39" width="29.26" height="30.03" fill="#190f00"/>
<rect x="397.56" y="872.39" width="29.26" height="30.03" fill="#280500"/>
<rect x="426.32" y="872.39" width="115.54" height="30.03" fill="#1e0500"/>
<rect x="52.44" y="901.93" width="115.54" height="30.03" fill="#051e00"/>
<rect x="167.48" y="901.93" width="29.26" height="30.03" fill="#190f00"/>
<rect x="196.24" y="901.93" width="29.26" height="30.03" fill="#2d2300"/>
<rect x="225" y="901.93" width="29.26" height="30.03" fill="#281900"/>
<rect x="253.76" y="901.93" width="29.26" height="30.03" fill="#370a00"/>
<rect x="282.52" y="901.93" width="29.26" height="30.03" fill="#0a1e00"/>
<rect x="311.28" y="901.93" width="29.26" height="30.03" fill="#281900"/>
<rect x="340.04" y="901.93" width="29.26" height="30.03" fill="#460f00"/>
<rect x="368.8" y="901.93" width="29.26" height="30.03" fill="#192d00"/>
<rect x="397.56" y="901.93" width="29.26" height="30.03" fill="#191400"/>
<rect x="426.32" y="901.93" width="115.54" height="30.03" fill="#280f00"/>
<rect x="52.44" y="931.46" width="115.54" height="30.03" fill="#191400"/>
<rect x="167.48" y="931.46" width="29.26" height="30.03" fill="#320f00"/>
<rect x="196.24" y="931.46" width="29.26" height="30.03" fill="#002300"/>
<rect x="225" y="931.46" width="29.26" height="30.03" fill="#1e3200"/>
<rect x="253.76" y="931.46" width="29.26" height="30.03" fill="#0f6400"/>
<rect x="282.52" y="931.46" width="29.26" height="30.03" fill="#0f3c00"/>
<rect x="311.28" y="931.46" width="29.26" height="30.03" fill="#964600"/>
<rect x="340.04" y="931.46" width="29.26" height="30.03" fill="#3c3200"/>
<rect x="368.8" y="931.46" width="29.26" height="30.03" fill="#322800"/>
<rect x="397.56" y="931.46" width="29.26" height="30.03" fill="#323c00"/>
<rect x="426.32" y="931.46" width="115.54" height="30.03" fill="#281e00"/>
<rect x="52.44" y="960.99" width="115.54" height="30.03" fill="#324600"/>
<rect x="167.48" y="960.99" width="29.26" height="30.03" fill="#1e1e00"/>
<rect x="196.24" y="960.99" width="29.26" height="30.03" fill="#001e00"/>
<rect x="225" y="960.99" width="29.26" height="30.03" fill="#285a00"/>
<rect x="253.76" y="960.99" width="29.26" height="30.03" fill="#a0aa00"/>
<rect x="282.52" y="960.99" width="29.26" height="30.03" fill="#c8cd00"/>
<rect x="311.28" y="960.99" width="29.26" height="30.03" fill="#8c6e00"/>
<rect x="340.04" y="960.99" width="29.26" height="30.03" fill="#463c00"/>
<rect x="368.8" y="960.99" width="29.26" height="30.03" fill="#3c3700"/>
<rect x="397.56" y="960.99" width="29.26" height="30.03" fill="#3c3700"/>
<rect x="426.32" y="960.99" width="115.54" height="30.03" fill="#3c1900"/>
<rect x="52.44" y="990.52" width="115.54" height="30.03" fill="#281900"/>
<rect x="167.48" y="990.52" width="29.26" height="30.03" fill="#143c00"/>
<rect x="196.24" y="990.52" width="29.26" height="30.03" fill="#0a8c00"/>
<rect x="225" y="990.52" width="29.26" height="30.03" fill="#14c800"/>
<rect x="253.76" y="990.52" width="29.26" height="30.03" fill="#faa000"/>
<rect x="282.52" y="990.52" width="29.26" height="30.03" fill="#ffff00"/>
<rect x="311.28" y="990.52" width="29.26" height="30.03" fill="#96e600"/>
<rect x="340.04" y="990.52" width="29.26" height="30.03" fill="#646e00"/>
<rect x="368.8" y="990.52" width="29.26" height="30.03" fill="#324600"/>
<rect x="397.56" y="990.52" width="29.26" height="30.03" fill="#463200"/>
<rect x="426.32" y="990.52" width="115.54" height="30.03" fill="#461400"/>
<rect x="52.44" y="1020.05" width="115.54" height="30.03" fill="#1e1900"/>
<rect x="167.48" y="1020.05" width="29.26" height="30.03" fill="#3c1400"/>
<rect x="196.24" y="1020.05" width="29.26" height="30.03" fill="#0a6e00"/>
<rect x="225" y="1020.05" width="29.26" height="30.03" fill="#1eb400"/>
<rect x="253.76" y="1020.05" width="29.26" height="30.03" fill="#3caa00"/>
<rect x="282.52" y="1020.05" width="29.26" height="30.03" fill="#d2be00"/>
<rect x="311.28" y="1020.05" width="29.26" height="30.03" fill="#be6400"/>
<rect x="340.04" y="1020.05" width="29.26" height="30.03" fill="#5a4600"/>
<rect x="368.8" y="1020.05" width="29.26" height="30.03" fill="#3c3c00"/>
<rect x="397.56" y="1020.05" width="29.26" height="30.03" fill="#3c3200"/>
<rect x="426.32" y="1020.05" width="115.54" height="30.03" fill="#321900"/>
<rect x="52.44" y="1049.58" width="115.54" height="30.03" fill="#0a2800"/>
<rect x="167.48" y="1049.58" width="29.26" height="30.03" fill="#0a3c00"/>
<rect x="196.24" y="1049.58" width="29.26" height="30.03" fill="#0a5000"/>
<rect x="225" y="1049.58" width="29.26" height="30.03" fill="#0a5a00"/>
<rect x="253.76" y="1049.58" width="29.26" height="30.03" fill="#0a5a00"/>
<rect x="282.52" y="1049.58" width="29.26" height="30.03" fill="#0a4600"/>
<rect x="311.28" y="1049.58" width="29.26" height="30.03" fill="#006e00"/>
<rect x="340.04" y="1049.58" width="29.26" height="30.03" fill="#460a00"/>
<rect x="368.8" y="1049.58" width="29.26" height="30.03" fill="#1e1400"/>
<rect x="397.56" y="1049.58" width="29.26" height="30.03" fill="#0a2800"/>
<rect x="426.32" y="1049.58" width="115.54" height="30.03" fill="#143200"/>
<rect x="52.44" y="1079.11" width="115.54" height="30.03" fill="#052800"/>
<rect x="167.48" y="1079.11" width="29.26" height="30.03" fill="#0a2d00"/>
<rect x="196.24" y="1079.11" width="29.26" height="30.03" fill="#0a2800"/>
<rect x="225" y="1079.11" width="29.26" height="30.03" fill="#0a2800"/>
<rect x="253.76" y="1079.11" width="29.26" height="30.03" fill="#141900"/>
<rect x="282.52" y="1079.11" width="29.26" height="30.03" fill="#051e00"/>
<rect x="311.28" y="1079.11" width="29.26" height="30.03" fill="#001400"/>
<rect x="340.04" y="1079.11" width="29.26" height="30.03" fill="#0a1900"/>
<rect x="368.8" y="1079.11" width="29.26" height="30.03" fill="#000000"/>
<rect x="397.56" y="1079.11" width="29.26" height="30.03" fill="#322d00"/>
<rect x="426.32" y="1079.11" width="115.54" height="30.03" fill="#142d00"/>
<rect x="52.44" y="1108.64" width="115.54" height="118.62" fill="#0a3200"/>
<rect x="167.48" y="1108.64" width="29.26" height="118.62" fill="#195000"/>
<rect x="196.24" y="1108.64" width="29.26" height="118.62" fill="#1e1e00"/>
<rect x="225" y="1108.64" width="29.26" height="118.62" fill="#1e2300"/>
<rect x="253.76" y="1108.64" width="29.26" height="118.62" fill="#192300"/>
<rect x="282.52" y="1108.64" width="29.26" height="118.62" fill="#0a1400"/>
<rect x="311.28" y="1108.64" width="29.26" height="118.62" fill="#000500"/>
<rect x="340.04" y="1108.64" width="29.26" height="118.62" fill="#0a1900"/>
<rect x="368.8" y="1108.64" width="29.26" height="118.62" fill="#231400"/>
<rect x="397.56" y="1108.64" width="29.26" height="118.62" fill="#0a3200"/>
<rect x="426.32" y="1108.64" width="115.54" height="118.62" fill="#0a2d00"/>
</g></g>
<rect x="153.1" y="828.1" width="287.6" height="295.3" fill="none" stroke="#000" stroke-width="1.5"/>
<clipPath id="clip-C"><rect x="156.5" y="2100.7" width="277.6" height="293.1"/></clipPath>
<filter id="blur-C" x="-10%" y="-10%" width="120%" height="120%" color-interpolation-filters="sRGB"><feGaussianBlur stdDeviation="9.5"/><feComponentTransfer><feFuncR type="linear" slope="1.06"/><feFuncG type="linear" slope="1.06"/></feComponentTransfer></filter>
<g clip-path="url(#clip-C)"><rect x="155.5" y="2099.7" width="279.6" height="295.1" fill="#000"/><g filter="url(#blur-C)">
<rect x="59.34" y="1998.11" width="111.54" height="117.74" fill="#1e0a00"/>
<rect x="170.38" y="1998.11" width="28.26" height="117.74" fill="#0a8200"/>
<rect x="198.14" y="1998.11" width="28.26" height="117.74" fill="#051400"/>
<rect x="225.9" y="1998.11" width="28.26" height="117.74" fill="#280000"/>
<rect x="253.66" y="1998.11" width="28.26" height="117.74" fill="#050500"/>
<rect x="281.42" y="1998.11" width="28.26" height="117.74" fill="#280000"/>
<rect x="309.18" y="1998.11" width="28.26" height="117.74" fill="#280000"/>
<rect x="336.94" y="1998.11" width="28.26" height="117.74" fill="#140000"/>
<rect x="364.7" y="1998.11" width="28.26" height="117.74" fill="#050000"/>
<rect x="392.46" y="1998.11" width="28.26" height="117.74" fill="#000000"/>
<rect x="420.22" y="1998.11" width="111.54" height="117.74" fill="#000f00"/>
<rect x="59.34" y="2115.36" width="111.54" height="29.81" fill="#140000"/>
<rect x="170.38" y="2115.36" width="28.26" height="29.81" fill="#6e1400"/>
<rect x="198.14" y="2115.36" width="28.26" height="29.81" fill="#280500"/>
<rect x="225.9" y="2115.36" width="28.26" height="29.81" fill="#230500"/>
<rect x="253.66" y="2115.36" width="28.26" height="29.81" fill="#0a1e00"/>
<rect x="281.42" y="2115.36" width="28.26" height="29.81" fill="#460000"/>
<rect x="309.18" y="2115.36" width="28.26" height="29.81" fill="#460000"/>
<rect x="336.94" y="2115.36" width="28.26" height="29.81" fill="#320000"/>
<rect x="364.7" y="2115.36" width="28.26" height="29.81" fill="#0a0a00"/>
<rect x="392.46" y="2115.36" width="28.26" height="29.81" fill="#000000"/>
<rect x="420.22" y="2115.36" width="111.54" height="29.81" fill="#0a0000"/>
<rect x="59.34" y="2144.66" width="111.54" height="29.81" fill="#000a00"/>
<rect x="170.38" y="2144.66" width="28.26" height="29.81" fill="#140a00"/>
<rect x="198.14" y="2144.66" width="28.26" height="29.81" fill="#1e1400"/>
<rect x="225.9" y="2144.66" width="28.26" height="29.81" fill="#1e3200"/>
<rect x="253.66" y="2144.66" width="28.26" height="29.81" fill="#9b0a00"/>
<rect x="281.42" y="2144.66" width="28.26" height="29.81" fill="#1e1e00"/>
<rect x="309.18" y="2144.66" width="28.26" height="29.81" fill="#0a0500"/>
<rect x="336.94" y="2144.66" width="28.26" height="29.81" fill="#000000"/>
<rect x="364.7" y="2144.66" width="28.26" height="29.81" fill="#000500"/>
<rect x="392.46" y="2144.66" width="28.26" height="29.81" fill="#000500"/>
<rect x="420.22" y="2144.66" width="111.54" height="29.81" fill="#000000"/>
<rect x="59.34" y="2173.97" width="111.54" height="29.81" fill="#000000"/>
<rect x="170.38" y="2173.97" width="28.26" height="29.81" fill="#001400"/>
<rect x="198.14" y="2173.97" width="28.26" height="29.81" fill="#1e5a00"/>
<rect x="225.9" y="2173.97" width="28.26" height="29.81" fill="#646400"/>
<rect x="253.66" y="2173.97" width="28.26" height="29.81" fill="#827800"/>
<rect x="281.42" y="2173.97" width="28.26" height="29.81" fill="#3c5a00"/>
<rect x="309.18" y="2173.97" width="28.26" height="29.81" fill="#461e00"/>
<rect x="336.94" y="2173.97" width="28.26" height="29.81" fill="#141400"/>
<rect x="364.7" y="2173.97" width="28.26" height="29.81" fill="#142800"/>
<rect x="392.46" y="2173.97" width="28.26" height="29.81" fill="#1e1900"/>
<rect x="420.22" y="2173.97" width="111.54" height="29.81" fill="#0a2300"/>
<rect x="59.34" y="2203.28" width="111.54" height="29.81" fill="#140500"/>
<rect x="170.38" y="2203.28" width="28.26" height="29.81" fill="#3c1400"/>
<rect x="198.14" y="2203.28" width="28.26" height="29.81" fill="#461e00"/>
<rect x="225.9" y="2203.28" width="28.26" height="29.81" fill="#d7aa00"/>
<rect x="253.66" y="2203.28" width="28.26" height="29.81" fill="#96c800"/>
<rect x="281.42" y="2203.28" width="28.26" height="29.81" fill="#826400"/>
<rect x="309.18" y="2203.28" width="28.26" height="29.81" fill="#aa2800"/>
<rect x="336.94" y="2203.28" width="28.26" height="29.81" fill="#643200"/>
<rect x="364.7" y="2203.28" width="28.26" height="29.81" fill="#320000"/>
<rect x="392.46" y="2203.28" width="28.26" height="29.81" fill="#000a00"/>
<rect x="420.22" y="2203.28" width="111.54" height="29.81" fill="#001400"/>
<rect x="59.34" y="2232.59" width="111.54" height="29.81" fill="#1e0000"/>
<rect x="170.38" y="2232.59" width="28.26" height="29.81" fill="#320000"/>
<rect x="198.14" y="2232.59" width="28.26" height="29.81" fill="#3c0f00"/>
<rect x="225.9" y="2232.59" width="28.26" height="29.81" fill="#96a000"/>
<rect x="253.66" y="2232.59" width="28.26" height="29.81" fill="#96f500"/>
<rect x="281.42" y="2232.59" width="28.26" height="29.81" fill="#aaff00"/>
<rect x="309.18" y="2232.59" width="28.26" height="29.81" fill="#6e6e00"/>
<rect x="336.94" y="2232.59" width="28.26" height="29.81" fill="#3c2800"/>
<rect x="364.7" y="2232.59" width="28.26" height="29.81" fill="#320a00"/>
<rect x="392.46" y="2232.59" width="28.26" height="29.81" fill="#001900"/>
<rect x="420.22" y="2232.59" width="111.54" height="29.81" fill="#001400"/>
<rect x="59.34" y="2261.91" width="111.54" height="29.81" fill="#6e2800"/>
<rect x="170.38" y="2261.91" width="28.26" height="29.81" fill="#1e0a00"/>
<rect x="198.14" y="2261.91" width="28.26" height="29.81" fill="#3c0000"/>
<rect x="225.9" y="2261.91" width="28.26" height="29.81" fill="#508200"/>
<rect x="253.66" y="2261.91" width="28.26" height="29.81" fill="#789600"/>
<rect x="281.42" y="2261.91" width="28.26" height="29.81" fill="#509600"/>
<rect x="309.18" y="2261.91" width="28.26" height="29.81" fill="#3c3200"/>
<rect x="336.94" y="2261.91" width="28.26" height="29.81" fill="#1e1400"/>
<rect x="364.7" y="2261.91" width="28.26" height="29.81" fill="#0a3c00"/>
<rect x="392.46" y="2261.91" width="28.26" height="29.81" fill="#4b0000"/>
<rect x="420.22" y="2261.91" width="111.54" height="29.81" fill="#1e0000"/>
<rect x="59.34" y="2291.22" width="111.54" height="29.81" fill="#0a1e00"/>
<rect x="170.38" y="2291.22" width="28.26" height="29.81" fill="#000f00"/>
<rect x="198.14" y="2291.22" width="28.26" height="29.81" fill="#051e00"/>
<rect x="225.9" y="2291.22" width="28.26" height="29.81" fill="#286400"/>
<rect x="253.66" y="2291.22" width="28.26" height="29.81" fill="#3c2800"/>
<rect x="281.42" y="2291.22" width="28.26" height="29.81" fill="#3c3c00"/>
<rect x="309.18" y="2291.22" width="28.26" height="29.81" fill="#1e0500"/>
<rect x="336.94" y="2291.22" width="28.26" height="29.81" fill="#190000"/>
<rect x="364.7" y="2291.22" width="28.26" height="29.81" fill="#140000"/>
<rect x="392.46" y="2291.22" width="28.26" height="29.81" fill="#1e0000"/>
<rect x="420.22" y="2291.22" width="111.54" height="29.81" fill="#280000"/>
<rect x="59.34" y="2320.53" width="111.54" height="29.81" fill="#001400"/>
<rect x="170.38" y="2320.53" width="28.26" height="29.81" fill="#001400"/>
<rect x="198.14" y="2320.53" width="28.26" height="29.81" fill="#003200"/>
<rect x="225.9" y="2320.53" width="28.26" height="29.81" fill="#000a00"/>
<rect x="253.66" y="2320.53" width="28.26" height="29.81" fill="#0a0500"/>
<rect x="281.42" y="2320.53" width="28.26" height="29.81" fill="#323c00"/>
<rect x="309.18" y="2320.53" width="28.26" height="29.81" fill="#140f00"/>
<rect x="336.94" y="2320.53" width="28.26" height="29.81" fill="#050500"/>
<rect x="364.7" y="2320.53" width="28.26" height="29.81" fill="#550000"/>
<rect x="392.46" y="2320.53" width="28.26" height="29.81" fill="#1e0a00"/>
<rect x="420.22" y="2320.53" width="111.54" height="29.81" fill="#0a2800"/>
<rect x="59.34" y="2349.84" width="111.54" height="29.81" fill="#051e00"/>
<rect x="170.38" y="2349.84" width="28.26" height="29.81" fill="#001e00"/>
<rect x="198.14" y="2349.84" width="28.26" height="29.81" fill="#051e00"/>
<rect x="225.9" y="2349.84" width="28.26" height="29.81" fill="#3c1400"/>
<rect x="253.66" y="2349.84" width="28.26" height="29.81" fill="#141400"/>
<rect x="281.42" y="2349.84" width="28.26" height="29.81" fill="#000500"/>
<rect x="309.18" y="2349.84" width="28.26" height="29.81" fill="#000a00"/>
<rect x="336.94" y="2349.84" width="28.26" height="29.81" fill="#000500"/>
<rect x="364.7" y="2349.84" width="28.26" height="29.81" fill="#0a0000"/>
<rect x="392.46" y="2349.84" width="28.26" height="29.81" fill="#000000"/>
<rect x="420.22" y="2349.84" width="111.54" height="29.81" fill="#000500"/>
<rect x="59.34" y="2379.14" width="111.54" height="117.74" fill="#001400"/>
<rect x="170.38" y="2379.14" width="28.26" height="117.74" fill="#003200"/>
<rect x="198.14" y="2379.14" width="28.26" height="117.74" fill="#0a1400"/>
<rect x="225.9" y="2379.14" width="28.26" height="117.74" fill="#0a0000"/>
<rect x="253.66" y="2379.14" width="28.26" height="117.74" fill="#050000"/>
<rect x="281.42" y="2379.14" width="28.26" height="117.74" fill="#050000"/>
<rect x="309.18" y="2379.14" width="28.26" height="117.74" fill="#1e0000"/>
<rect x="336.94" y="2379.14" width="28.26" height="117.74" fill="#0a0000"/>
<rect x="364.7" y="2379.14" width="28.26" height="117.74" fill="#0a0000"/>
<rect x="392.46" y="2379.14" width="28.26" height="117.74" fill="#000000"/>
<rect x="420.22" y="2379.14" width="111.54" height="117.74" fill="#000000"/>
</g></g>
<rect x="156.5" y="2100.7" width="277.6" height="293.1" fill="none" stroke="#000" stroke-width="1.5"/>
<defs><linearGradient id="gg" x1="0" y1="0" x2="0" y2="1"><stop offset="0" stop-color="#0f0"/><stop offset="1" stop-color="#000"/></linearGradient><linearGradient id="gr" x1="0" y1="0" x2="0" y2="1"><stop offset="0" stop-color="#f00"/><stop offset="1" stop-color="#000"/></linearGradient></defs>
<rect x="69.9" y="936.6" width="11.3" height="131.8" fill="url(#gg)"/>
<rect x="98.7" y="936.6" width="11.6" height="131.8" fill="url(#gr)"/>
<rect x="84" y="2183.3" width="11.5" height="132.6" fill="url(#gg)"/>
<rect x="113.7" y="2183.3" width="11.5" height="132.6" fill="url(#gr)"/>
<g id="A2">
<path d="M507.9 237.5h320.4v2h-320.4zM527.92 222.85h6.83v15.65h-6.83zM534.6 191.55h6.83v46.95h-6.83zM541.27 222.85h6.83v15.65h-6.83zM567.98 191.55h6.83v46.95h-6.83zM588 222.85h6.83v15.65h-6.83zM594.67 191.55h6.83v46.95h-6.83zM608.02 222.85h6.83v15.65h-6.83zM614.7 222.85h6.83v15.65h-6.83zM621.38 222.85h6.83v15.65h-6.83zM628.05 222.85h6.83v15.65h-6.83zM641.4 222.85h6.83v15.65h-6.83zM661.42 222.85h6.83v15.65h-6.83zM708.15 222.85h6.83v15.65h-6.83zM714.82 222.85h6.83v15.65h-6.83zM728.17 222.85h6.83v15.65h-6.83zM507.9 315.1h320.4v2h-320.4zM527.92 284.8h6.83v31.3h-6.83zM534.6 300.45h6.83v15.65h-6.83zM567.98 300.45h6.83v15.65h-6.83zM581.32 284.8h6.83v31.3h-6.83zM588 300.45h6.83v15.65h-6.83zM614.7 284.8h6.83v31.3h-6.83zM628.05 300.45h6.83v15.65h-6.83zM688.12 284.8h6.83v31.3h-6.83zM694.8 284.8h6.83v31.3h-6.83zM701.47 300.45h6.83v15.65h-6.83zM714.82 300.45h6.83v15.65h-6.83zM507.9 394.3h320.4v2h-320.4zM527.92 379.65h6.83v15.65h-6.83zM534.6 348.35h6.83v46.95h-6.83zM614.7 379.65h6.83v15.65h-6.83zM621.38 348.35h6.83v46.95h-6.83zM628.05 364h6.83v31.3h-6.83zM634.73 379.65h6.83v15.65h-6.83zM674.77 379.65h6.83v15.65h-6.83zM681.45 379.65h6.83v15.65h-6.83zM714.82 364h6.83v31.3h-6.83zM507.9 472.9h320.4v2h-320.4zM534.6 442.6h6.83v31.3h-6.83zM561.3 458.25h6.83v15.65h-6.83zM574.65 458.25h6.83v15.65h-6.83zM621.38 458.25h6.83v15.65h-6.83zM661.42 458.25h6.83v15.65h-6.83zM674.77 458.25h6.83v15.65h-6.83zM681.45 458.25h6.83v15.65h-6.83zM734.85 442.6h6.83v31.3h-6.83zM741.52 458.25h6.83v15.65h-6.83zM507.9 550.8h320.4v2h-320.4zM534.6 536.15h6.83v15.65h-6.83zM594.67 520.5h6.83v31.3h-6.83zM634.73 520.5h6.83v31.3h-6.83zM648.07 536.15h6.83v15.65h-6.83zM668.1 536.15h6.83v15.65h-6.83zM701.47 536.15h6.83v15.65h-6.83zM734.85 536.15h6.83v15.65h-6.83zM748.2 536.15h6.83v15.65h-6.83zM507.9 629.4h320.4v2h-320.4zM534.6 614.75h6.83v15.65h-6.83zM594.67 599.1h6.83v31.3h-6.83zM601.35 614.75h6.83v15.65h-6.83zM621.38 614.75h6.83v15.65h-6.83zM628.05 599.1h6.83v31.3h-6.83zM634.73 599.1h6.83v31.3h-6.83zM674.77 599.1h6.83v31.3h-6.83zM681.45 614.75h6.83v15.65h-6.83zM734.85 614.75h6.83v15.65h-6.83zM754.88 614.75h6.83v15.65h-6.83zM507.9 708.5h320.4v2h-320.4zM534.6 675.07h6.83v34.43h-6.83zM588 693.85h6.83v15.65h-6.83zM601.35 693.85h6.83v15.65h-6.83zM608.02 678.2h6.83v31.3h-6.83zM641.4 693.85h6.83v15.65h-6.83zM668.1 693.85h6.83v15.65h-6.83zM674.77 678.2h6.83v31.3h-6.83zM681.45 693.85h6.83v15.65h-6.83zM507.9 786.6h320.4v2h-320.4zM527.92 771.95h6.83v15.65h-6.83zM534.6 756.3h6.83v31.3h-6.83zM567.98 771.95h6.83v15.65h-6.83zM594.67 771.95h6.83v15.65h-6.83zM601.35 771.95h6.83v15.65h-6.83zM614.7 756.3h6.83v31.3h-6.83zM621.38 740.65h6.83v46.95h-6.83zM628.05 756.3h6.83v31.3h-6.83zM694.8 756.3h6.83v31.3h-6.83zM701.47 756.3h6.83v31.3h-6.83zM507.9 865.6h320.4v2h-320.4zM534.6 850.95h6.83v15.65h-6.83zM588 850.95h6.83v15.65h-6.83zM601.35 850.95h6.83v15.65h-6.83zM608.02 835.3h6.83v31.3h-6.83zM614.7 850.95h6.83v15.65h-6.83zM641.4 850.95h6.83v15.65h-6.83zM648.07 850.95h6.83v15.65h-6.83zM661.42 850.95h6.83v15.65h-6.83zM668.1 835.3h6.83v31.3h-6.83zM674.77 850.95h6.83v15.65h-6.83zM688.12 850.95h6.83v15.65h-6.83zM741.52 850.95h6.83v15.65h-6.83zM507.9 944.6h320.4v2h-320.4zM527.92 929.95h6.83v15.65h-6.83zM541.27 929.95h6.83v15.65h-6.83zM574.65 929.95h6.83v15.65h-6.83zM581.32 883h6.83v62.6h-6.83zM588 929.95h6.83v15.65h-6.83zM648.07 914.3h6.83v31.3h-6.83zM654.75 929.95h6.83v15.65h-6.83zM661.42 914.3h6.83v31.3h-6.83zM721.5 929.95h6.83v15.65h-6.83zM728.17 898.65h6.83v46.95h-6.83zM741.52 914.3h6.83v31.3h-6.83zM507.9 1023.3h320.4v2h-320.4zM534.6 1008.65h6.83v15.65h-6.83zM541.27 1008.65h6.83v15.65h-6.83zM561.3 1008.65h6.83v15.65h-6.83zM588 1008.65h6.83v15.65h-6.83zM601.35 1008.65h6.83v15.65h-6.83zM608.02 1008.65h6.83v15.65h-6.83zM634.73 993h6.83v31.3h-6.83zM641.4 993h6.83v31.3h-6.83zM648.07 1008.65h6.83v15.65h-6.83zM694.8 1008.65h6.83v15.65h-6.83zM701.47 1008.65h6.83v15.65h-6.83zM714.82 1008.65h6.83v15.65h-6.83zM721.5 1008.65h6.83v15.65h-6.83zM741.52 993h6.83v31.3h-6.83zM507.9 1101.4h320.4v2h-320.4zM534.6 1086.75h6.83v15.65h-6.83zM541.27 1071.1h6.83v31.3h-6.83zM574.65 1086.75h6.83v15.65h-6.83zM581.32 1055.45h6.83v46.95h-6.83zM588 1071.1h6.83v31.3h-6.83zM594.67 1086.75h6.83v15.65h-6.83zM601.35 1086.75h6.83v15.65h-6.83zM614.7 1086.75h6.83v15.65h-6.83zM621.38 1086.75h6.83v15.65h-6.83zM641.4 1086.75h6.83v15.65h-6.83zM648.07 1086.75h6.83v15.65h-6.83zM654.75 1086.75h6.83v15.65h-6.83zM688.12 1086.75h6.83v15.65h-6.83zM734.85 1086.75h6.83v15.65h-6.83z"/>
<text transform="translate(501.14 209.25) scale(0.2905 0.2489)" font-size="100" font-weight="bold" fill="#e80000" font-family="Liberation Serif,serif" stroke="#e80000" stroke-width="1.48">0</text>
<text transform="translate(501.37 285.16) scale(0.2670 0.2444)" font-size="100" font-weight="bold" fill="#e80000" font-family="Liberation Serif,serif" stroke="#e80000" stroke-width="1.56">30</text>
<text transform="translate(501.37 356.76) scale(0.2670 0.2430)" font-size="100" font-weight="bold" fill="#e80000" font-family="Liberation Serif,serif" stroke="#e80000" stroke-width="1.57">60</text>
<text transform="translate(501.46 436.56) scale(0.2386 0.2366)" font-size="100" font-weight="bold" fill="#e80000" stroke="#e80000" stroke-width="1.68">90</text>
<text transform="translate(501.6 512.66) scale(0.2326 0.2408)" font-size="100" font-weight="bold" fill="#e80000" stroke="#e80000" stroke-width="1.69">120</text>
<text transform="translate(501.6 590.27) scale(0.2326 0.2324)" font-size="100" font-weight="bold" fill="#e80000" stroke="#e80000" stroke-width="1.72">150</text>
<text transform="translate(501.6 671.37) scale(0.2326 0.2338)" font-size="100" font-weight="bold" fill="#e80000" stroke="#e80000" stroke-width="1.72">180</text>
<text transform="translate(501.48 750.17) scale(0.2333 0.2324)" font-size="100" font-weight="bold" fill="#e80000" stroke="#e80000" stroke-width="1.72">210</text>
<text transform="translate(501.48 830.27) scale(0.2333 0.2324)" font-size="100" font-weight="bold" fill="#e80000" stroke="#e80000" stroke-width="1.72">240</text>
<text transform="translate(501.38 908.36) scale(0.2352 0.2366)" font-size="100" font-weight="bold" fill="#e80000" stroke="#e80000" stroke-width="1.7">270</text>
<text transform="translate(501.28 987.35) scale(0.2625 0.2489)" font-size="100" font-weight="bold" fill="#e80000" font-family="Liberation Serif,serif" stroke="#e80000" stroke-width="1.56">300</text>
<text transform="translate(501.28 1069.56) scale(0.2625 0.2444)" font-size="100" font-weight="bold" fill="#e80000" font-family="Liberation Serif,serif" stroke="#e80000" stroke-width="1.58">330</text>
<clipPath id="ca245"><rect x="507.6" y="243.5" width="23.6" height="5.9"/></clipPath><g clip-path="url(#ca245)">
<text transform="translate(509.13 258.51) scale(0.1876 0.1859)" font-size="100" font-weight="bold" fill="#f00">30</text>
</g>
<clipPath id="ca324"><rect x="507.4" y="322.5" width="23.6" height="5.7"/></clipPath><g clip-path="url(#ca324)">
<text transform="translate(508.74 337.51) scale(0.1894 0.1859)" font-size="100" font-weight="bold" fill="#f00">60</text>
</g>
<clipPath id="ca482"><rect x="508.7" y="480.3" width="34.1" height="5.8"/></clipPath><g clip-path="url(#ca482)">
<text transform="translate(509.55 495.31) scale(0.1923 0.1859)" font-size="100" font-weight="bold" fill="#f00">120</text>
</g>
<clipPath id="ca796"><rect x="507.6" y="794" width="34.2" height="5.2"/></clipPath><g clip-path="url(#ca796)">
<text transform="translate(508.94 809.01) scale(0.1899 0.1859)" font-size="100" font-weight="bold" fill="#f00">240</text>
</g>
</g>
<path d="M854.1 1071h6.4v40.1h45.2v6.3h-51.6z"/>
<g id="C2">
<path d="M510.9 1501.3h331.6v1.2h-331.6zM573.01 1492.9h3.83v9h-3.83zM576.85 1456.9h4.6v45h-4.6zM581.44 1465.9h4.34v36h-4.34zM585.79 1438.9h4.34v63h-4.34zM590.13 1474.9h7.15v27h-7.15zM597.28 1465.9h5.11v36h-5.11zM602.39 1483.9h4.6v18h-4.6zM663.69 1492.9h4.34v9h-4.34zM668.03 1483.9h8.94v18h-8.94zM676.97 1465.9h3.58v36h-3.58zM680.55 1456.9h4.09v45h-4.09zM684.64 1492.9h8.43v9h-8.43zM755.64 1483.9h7.66v18h-7.66zM763.31 1492.9h8.68v9h-8.68zM510.9 1580.2h331.6v1.2h-331.6zM555.13 1571.8h5.62v9h-5.62zM560.75 1562.8h3.32v18h-3.32zM564.07 1535.8h9.71v45h-9.71zM573.78 1544.8h3.58v36h-3.58zM577.36 1553.8h9.45v27h-9.45zM634.32 1571.8h8.43v9h-8.43zM642.75 1544.8h8.68v36h-8.68zM651.43 1535.8h7.92v45h-7.92zM659.35 1517.8h5.36v63h-5.36zM664.71 1553.8h3.83v27h-3.83zM668.54 1571.8h3.58v9h-3.58zM734.44 1562.8h3.83v18h-3.83zM738.28 1571.8h4.6v9h-4.6zM742.87 1562.8h3.07v18h-3.07zM745.94 1526.8h4.85v54h-4.85zM750.79 1571.8h5.36v9h-5.36zM510.9 1660.2h331.6v1.2h-331.6zM560.75 1651.8h7.92v9h-7.92zM647.09 1651.8h8.94v9h-8.94zM724.99 1651.8h5.11v9h-5.11zM730.1 1642.8h5.11v18h-5.11zM796.51 1651.8h3.83v9h-3.83zM510.9 1738.1h331.6v1.2h-331.6zM655.52 1729.7h4.34v9h-4.34zM659.86 1720.7h4.85v18h-4.85zM745.94 1729.7h4.85v9h-4.85zM510.9 1816.6h331.6v1.2h-331.6zM683.61 1808.2h5.11v9h-5.11zM791.4 1808.2h5.87v9h-5.87zM510.9 1896h331.6v1.2h-331.6zM621.8 1887.6h6.13v9h-6.13zM688.21 1887.6h4.85v9h-4.85zM510.9 1974.9h331.6v1.2h-331.6zM593.45 1957.5h4.34v18h-4.34zM597.79 1948.5h4.6v27h-4.6zM606.22 1966.5h4.85v9h-4.85zM614.39 1966.5h3.83v9h-3.83zM676.46 1966.5h4.6v9h-4.6zM510.9 2053h331.6v1.2h-331.6zM547.98 2044.6h4.85v9h-4.85zM560.75 2035.6h3.83v18h-3.83zM510.9 2131.6h331.6v1.2h-331.6zM791.4 2105.2h5.87v27h-5.87zM797.28 2123.2h3.07v9h-3.07zM510.9 2211.3h331.6v1.2h-331.6zM663.69 2202.9h5.11v9h-5.11zM755.64 2193.9h3.32v18h-3.32zM510.9 2289.2h331.6v1.2h-331.6zM704.9 2281.4h4.9v8.4h-4.9zM729.9 2281.4h5.2v8.4h-5.2zM791.1 2281.4h6.1v8.4h-6.1zM510.9 2367.4h331.6v1.2h-331.6zM563.9 2359.4h4.8v8.6h-4.8zM627.4 2359.4h3.7v8.6h-3.7zM634.5 2359.4h4.9v8.6h-4.9zM709 2359.4h4.6v8.6h-4.6zM713.6 2351h8.6v17h-8.6zM724.8 2351h6v17h-6zM734.3 2359.4h3.7v8.6h-3.7zM791.1 2359.4h6.1v8.6h-6.1z"/>
<text transform="translate(504 1479.85) scale(0.3000 0.2474)" font-size="100" font-weight="bold" fill="#e80000" font-family="Liberation Serif,serif" stroke="#e80000" stroke-width="1.46">0</text>
<text transform="translate(504.26 1555.55) scale(0.2692 0.2459)" font-size="100" font-weight="bold" fill="#e80000" font-family="Liberation Serif,serif" stroke="#e80000" stroke-width="1.55">30</text>
<text transform="translate(504.26 1629.25) scale(0.2692 0.2489)" font-size="100" font-weight="bold" fill="#e80000" font-family="Liberation Serif,serif" stroke="#e80000" stroke-width="1.54">60</text>
<text transform="translate(504.36 1707.26) scale(0.2406 0.2380)" font-size="100" font-weight="bold" fill="#e80000" stroke="#e80000" stroke-width="1.67">90</text>
<text transform="translate(504.79 1781.97) scale(0.2345 0.2338)" font-size="100" font-weight="bold" fill="#e80000" stroke="#e80000" stroke-width="1.71">120</text>
<text transform="translate(504.79 1860.77) scale(0.2345 0.2296)" font-size="100" font-weight="bold" fill="#e80000" stroke="#e80000" stroke-width="1.72">150</text>
<text transform="translate(504.79 1941.77) scale(0.2345 0.2338)" font-size="100" font-weight="bold" fill="#e80000" stroke="#e80000" stroke-width="1.71">180</text>
<text transform="translate(504.37 2020.97) scale(0.2371 0.2338)" font-size="100" font-weight="bold" fill="#e80000" stroke="#e80000" stroke-width="1.7">210</text>
<text transform="translate(504.37 2100.76) scale(0.2371 0.2352)" font-size="100" font-weight="bold" fill="#e80000" stroke="#e80000" stroke-width="1.69">240</text>
<text transform="translate(504.37 2178.57) scale(0.2371 0.2338)" font-size="100" font-weight="bold" fill="#e80000" stroke="#e80000" stroke-width="1.7">270</text>
<text transform="translate(504.27 2257.75) scale(0.2646 0.2489)" font-size="100" font-weight="bold" fill="#e80000" font-family="Liberation Serif,serif" stroke="#e80000" stroke-width="1.56">300</text>
<text transform="translate(504.27 2339.55) scale(0.2646 0.2474)" font-size="100" font-weight="bold" fill="#e80000" font-family="Liberation Serif,serif" stroke="#e80000" stroke-width="1.56">330</text>
</g>
<path d="M852.9 2334.1h6.4v41.1h45.4v6.3h-51.8z"/>
<g id="polar-A3" fill="none" stroke="#000" stroke-width="1.2"><circle cx="1117.6" cy="397.1" r="30.25"/><circle cx="1117.6" cy="397.1" r="60.5"/><circle cx="1117.6" cy="397.1" r="90.75"/><circle cx="1117.6" cy="397.1" r="121"/><path d="M996.6 397.1L1238.6 397.1M1012.81 336.6L1222.39 457.6M1057.1 292.31L1178.1 501.89M1117.6 276.1L1117.6 518.1M1178.1 292.31L1057.1 501.89M1222.39 336.6L1012.81 457.6"/></g>
<polygon points="1226.9,397.1 1207.23,448.85 1156.4,464.3 1117.6,475.2 1079.2,463.61 1028.14,448.75 1043.2,397.1 1054.29,360.55 1092.2,353.11 1117.6,348 1156.8,329.2 1197.01,351.25" fill="none" stroke="#f00" stroke-width="5" stroke-linejoin="miter"/>
<g id="polar-B1" fill="none" stroke="#000" stroke-width="2"><circle cx="1505.7" cy="238.2" r="30.65"/><circle cx="1505.7" cy="238.2" r="61.3"/><circle cx="1505.7" cy="238.2" r="91.95"/><circle cx="1505.7" cy="238.2" r="122.6"/><path d="M1383.1 238.2L1628.3 238.2M1399.53 176.9L1611.87 299.5M1444.4 132.03L1567 344.37M1505.7 115.6L1505.7 360.8M1567 132.03L1444.4 344.37M1611.87 176.9L1399.53 299.5"/></g>
<polygon points="1542.8,238.2 1601.92,293.75 1532.65,284.88 1505.7,311.9 1489.3,266.61 1438.76,276.85 1465.6,238.2 1431.65,195.45 1482.05,197.24 1505.7,149.2 1529.9,196.28 1561.82,205.8" fill="none" stroke="#f00" stroke-width="4" stroke-linejoin="round"/>
<g id="polar-B2" fill="none" stroke="#000" stroke-width="2"><circle cx="1512.7" cy="521.6" r="31"/><circle cx="1512.7" cy="521.6" r="62"/><circle cx="1512.7" cy="521.6" r="93"/><circle cx="1512.7" cy="521.6" r="124"/><path d="M1388.7 521.6L1636.7 521.6M1405.31 459.6L1620.09 583.6M1450.7 414.21L1574.7 628.99M1512.7 397.6L1512.7 645.6M1574.7 414.21L1450.7 628.99M1620.09 459.6L1405.31 583.6"/></g>
<polygon points="1556.8,521.6 1559.03,548.35 1546.85,580.75 1512.7,590.2 1477.45,582.65 1483.6,538.4 1474.2,521.6 1454.85,488.2 1460.85,431.79 1512.7,430.2 1559.5,440.54 1564.83,491.5" fill="none" stroke="#f00" stroke-width="3.6" stroke-linejoin="round"/>
<g id="polar-B3" fill="none" stroke="#000" stroke-width="2"><circle cx="1500.9" cy="802.4" r="30.65"/><circle cx="1500.9" cy="802.4" r="61.3"/><circle cx="1500.9" cy="802.4" r="91.95"/><circle cx="1500.9" cy="802.4" r="122.6"/><path d="M1378.3 802.4L1623.5 802.4M1394.73 741.1L1607.07 863.7M1439.6 696.23L1562.2 908.57M1500.9 679.8L1500.9 925M1562.2 696.23L1439.6 908.57M1607.07 741.1L1394.73 863.7"/></g>
<polygon points="1553.6,802.4 1572.95,844 1548.15,884.24 1500.9,904.8 1478.15,841.8 1472.58,818.75 1486.4,802.4 1465.65,782.05 1481.25,768.37 1500.9,730.1 1533.55,745.85 1553.47,772.05" fill="none" stroke="#f00" stroke-width="3.6" stroke-linejoin="round"/>
<g id="polar-B4" fill="none" stroke="#000" stroke-width="2"><circle cx="1508.7" cy="1067" r="30.57"/><circle cx="1508.7" cy="1067" r="61.15"/><circle cx="1508.7" cy="1067" r="91.72"/><circle cx="1508.7" cy="1067" r="122.3"/><path d="M1386.4 1067L1631 1067M1402.79 1005.85L1614.61 1128.15M1447.55 961.09L1569.85 1172.91M1508.7 944.7L1508.7 1189.3M1569.85 961.09L1447.55 1172.91M1614.61 1005.85L1402.79 1128.15"/></g>
<polygon points="1581.8,1067 1574.6,1105.05 1554.05,1145.55 1508.7,1156.8 1471,1132.3 1449.98,1100.9 1448.7,1067 1434.48,1024.15 1459.45,981.7 1508.7,976.1 1554.95,986.89 1583.09,1024.05" fill="none" stroke="#f00" stroke-width="3.6" stroke-linejoin="round"/>
<g id="polar-C3" fill="none" stroke="#000" stroke-width="1"><circle cx="1116.2" cy="1656.8" r="39.07"/><circle cx="1116.2" cy="1656.8" r="78.13"/><circle cx="1116.2" cy="1656.8" r="117.2"/><path d="M999 1656.8L1233.4 1656.8M1014.7 1598.2L1217.7 1715.4M1057.6 1555.3L1174.8 1758.3M1116.2 1539.6L1116.2 1774M1174.8 1555.3L1057.6 1758.3M1217.7 1598.2L1014.7 1715.4"/></g>
<polygon points="1194.6,1656.8 1204.88,1708 1118.7,1661.13 1116.2,1660.8 1114.7,1659.4 1113.6,1658.3 1100.6,1656.8 1112.74,1654.8 1114.7,1654.2 1116.2,1651.8 1119.2,1651.6 1133.17,1647" fill="none" stroke="#f00" stroke-width="7.3" stroke-linejoin="round"/>
<g id="polar-D1" fill="none" stroke="#000" stroke-width="1"><circle cx="1492.2" cy="1531.7" r="29.45"/><circle cx="1492.2" cy="1531.7" r="58.9"/><circle cx="1492.2" cy="1531.7" r="88.35"/><circle cx="1492.2" cy="1531.7" r="117.8"/><path d="M1374.4 1531.7L1610 1531.7M1390.18 1472.8L1594.22 1590.6M1433.3 1429.68L1551.1 1633.72M1492.2 1413.9L1492.2 1649.5M1551.1 1429.68L1433.3 1633.72M1594.22 1472.8L1390.18 1590.6"/></g>
<polygon points="1497.2,1531.7 1583.74,1584.55 1495.7,1537.76 1492.2,1535.7 1479.95,1552.92 1487,1534.7 1470.2,1531.7 1419.11,1489.5 1489.2,1526.5 1492.2,1528.7 1493.7,1529.1 1494.8,1530.2" fill="none" stroke="#f00" stroke-width="7.2" stroke-linejoin="round"/>
<g id="polar-D2" fill="none" stroke="#000" stroke-width="1"><circle cx="1490.4" cy="1809.5" r="23.4"/><circle cx="1490.4" cy="1809.5" r="46.8"/><circle cx="1490.4" cy="1809.5" r="70.2"/><circle cx="1490.4" cy="1809.5" r="93.6"/><circle cx="1490.4" cy="1809.5" r="117"/><path d="M1373.4 1809.5L1607.4 1809.5M1389.08 1751L1591.72 1868M1431.9 1708.18L1548.9 1910.82M1490.4 1692.5L1490.4 1926.5M1548.9 1708.18L1431.9 1910.82M1591.72 1751L1389.08 1868"/></g>
<polygon points="1503.8,1809.5 1496.46,1813 1492.4,1812.96 1490.4,1821.5 1455.9,1869.26 1466.15,1823.5 1481,1809.5 1485.2,1806.5 1487.9,1805.17 1490.4,1799.5 1542.95,1718.48 1519.93,1792.45" fill="none" stroke="#f00" stroke-width="7.2" stroke-linejoin="round"/>
<g id="polar-D3" fill="none" stroke="#000" stroke-width="1"><circle cx="1492.2" cy="2084" r="23.56"/><circle cx="1492.2" cy="2084" r="47.12"/><circle cx="1492.2" cy="2084" r="70.68"/><circle cx="1492.2" cy="2084" r="94.24"/><circle cx="1492.2" cy="2084" r="117.8"/><path d="M1374.4 2084L1610 2084M1390.18 2025.1L1594.22 2142.9M1433.3 1981.98L1551.1 2186.02M1492.2 1966.2L1492.2 2201.8M1551.1 1981.98L1433.3 2186.02M1594.22 2025.1L1390.18 2142.9"/></g>
<polygon points="1513.2,2084 1525.97,2103.5 1531.15,2151.46 1492.2,2165.2 1471.9,2119.16 1464.83,2099.8 1486.2,2084 1451.32,2060.4 1446.4,2004.67 1492.2,1969 1524.2,2028.57 1521.3,2067.2" fill="none" stroke="#f00" stroke-width="7.2" stroke-linejoin="miter"/>
<g id="polar-D4" fill="none" stroke="#000" stroke-width="1"><circle cx="1492.2" cy="2374.1" r="29.45"/><circle cx="1492.2" cy="2374.1" r="58.9"/><circle cx="1492.2" cy="2374.1" r="88.35"/><circle cx="1492.2" cy="2374.1" r="117.8"/><path d="M1374.4 2374.1L1610 2374.1M1390.18 2315.2L1594.22 2433M1433.3 2272.08L1551.1 2476.12M1492.2 2256.3L1492.2 2491.9M1551.1 2272.08L1433.3 2476.12M1594.22 2315.2L1390.18 2433"/></g>
<polygon points="1559.4,2374.1 1569.19,2418.55 1543.15,2462.35 1492.2,2478.4 1480.3,2394.71 1477.48,2382.6 1462.6,2374.1 1460.07,2355.55 1453.75,2307.5 1492.2,2319.8 1506.05,2350.11 1518.61,2358.85" fill="none" stroke="#f00" stroke-width="7.2" stroke-linejoin="miter"/>
<text transform="translate(1085.64 253.07) scale(0.3520 0.3310)" font-size="100">270°</text>
<text transform="translate(1216.57 304.48) scale(0.3555 0.3390)" font-size="100">(3)</text>
<text transform="translate(1259.85 416.15) scale(0.3637 0.3521)" font-size="100">0°</text>
<text transform="translate(915.88 411.73) scale(0.3488 0.3732)" font-size="100">180°</text>
<text transform="translate(1096.1 568.84) scale(0.3552 0.3592)" font-size="100">90°</text>
<text transform="translate(1082.24 1515.44) scale(0.3327 0.3563)" font-size="100" stroke="#000" stroke-width="1.6">270°</text>
<text transform="translate(1185.19 1549.22) scale(0.3511 0.3230)" font-size="100" stroke="#000" stroke-width="1.63">(10)</text>
<text transform="translate(1243.95 1673.14) scale(0.3614 0.3592)" font-size="100" stroke="#000" stroke-width="1.53">0°</text>
<text transform="translate(918.9 1677.03) scale(0.3339 0.3732)" font-size="100" stroke="#000" stroke-width="1.56">180°</text>
<text transform="translate(1091.18 1830.34) scale(0.3388 0.3634)" font-size="100" stroke="#000" stroke-width="1.57">90°</text>
<text transform="translate(1587.81 119.85) scale(0.3491 0.3358)" font-size="100">(4)</text>
<text transform="translate(1588.62 404.28) scale(0.3464 0.3390)" font-size="100">(4)</text>
<text transform="translate(1589.12 692.63) scale(0.3473 0.3369)" font-size="100">(4)</text>
<text transform="translate(1568.9 948.85) scale(0.3492 0.3358)" font-size="100">(20)</text>
<text transform="translate(1564.92 1395.76) scale(0.3473 0.3305)" font-size="100">(0.8)</text>
<text transform="translate(1560.3 1687.28) scale(0.3504 0.3390)" font-size="100">(2.5)</text>
<text transform="translate(1558.36 1964.04) scale(0.3235 0.3219)" font-size="100">(2.5)</text>
<text transform="translate(1573.55 2242.96) scale(0.3414 0.3305)" font-size="100">(15)</text>
<path d="M1024.9 975.1h15.28v35.1h-15.28zM1039.99 955.3h15.28v54.9h-15.28zM1055.07 968.7h15.28v41.5h-15.28zM1070.15 900.4h15.28v109.8h-15.28zM1085.24 914.4h15.28v95.8h-15.28zM1100.33 921.1h15.28v89.1h-15.28zM1115.41 901h15.28v109.2h-15.28zM1130.5 854.7h15.28v155.5h-15.28zM1145.58 773.3h15.28v236.9h-15.28zM1160.66 846.7h15.28v163.5h-15.28zM1175.75 799.8h15.28v210.4h-15.28zM1190.84 840.3h15.28v169.9h-15.28zM1205.92 854.7h15.28v155.5h-15.28zM1221 914.4h15.28v95.8h-15.28zM1236.09 887.6h15.28v122.6h-15.28zM1251.17 874.5h15.28v135.7h-15.28zM1266.26 894h15.28v116.2h-15.28zM1281.34 921.1h15.28v89.1h-15.28zM1296.43 947.9h15.28v62.3h-15.28zM1311.51 955.3h15.28v54.9h-15.28z"/>
<rect x="1024.3" y="774.2" width="1.2" height="236.6"/>
<path d="M1046.38 2256.7h15.29v21.7h-15.29zM1061.47 2193.2h15.29v85.2h-15.29zM1076.56 2172.4h15.29v106h-15.29zM1091.65 2086.8h15.29v191.6h-15.29zM1106.74 2108.2h15.29v170.2h-15.29zM1121.83 2129.9h15.29v148.5h-15.29zM1136.92 2065.8h15.29v212.6h-15.29zM1152.01 2172.4h15.29v106h-15.29zM1167.1 2235.3h15.29v43.1h-15.29zM1182.19 2193.2h15.29v85.2h-15.29zM1197.28 2256.7h15.29v21.7h-15.29zM1212.37 2256.7h15.29v21.7h-15.29z"/>
<rect x="1015.5" y="2059.6" width="1.4" height="219.5"/>
<rect x="1015.5" y="2277.7" width="302.5" height="1.4"/>
<text transform="translate(1086.33 762.42) scale(0.2725 0.2913)" font-size="100" font-weight="bold">F1/F0 = 0.57</text>
<text transform="translate(967.25 810.61) scale(0.3130 0.2915)" font-size="100" stroke="#000" stroke-width="1.82">10</text>
<text transform="translate(984.31 919.19) scale(0.3221 0.3100)" font-size="100" stroke="#000" stroke-width="1.74">5</text>
<text transform="translate(985.25 1030) scale(0.3125 0.3014)" font-size="100" stroke="#000" stroke-width="1.79">0</text>
<text transform="translate(1018.77 1051.4) scale(0.3312 0.3014)" font-size="100" stroke="#000" stroke-width="1.74">0</text>
<text transform="translate(1150.98 1051.4) scale(0.3234 0.3014)" font-size="100" stroke="#000" stroke-width="1.76">250</text>
<text transform="translate(1301.31 1051.4) scale(0.3214 0.3014)" font-size="100" stroke="#000" stroke-width="1.77">500</text>
<text transform="translate(1106.27 1094.05) scale(0.3127 0.3070)" font-size="100" stroke="#000" stroke-width="1.78">Times (ms)</text>
<text transform="translate(950.99 1012.72) rotate(-90) scale(0.3152 0.3241)" font-size="100" stroke="#000" stroke-width="1.72">Firing rate (Hz)</text>
<text transform="translate(1075.73 2027.13) scale(0.2724 0.2872)" font-size="100" font-weight="bold">F1/F0 = 0.81</text>
<text transform="translate(962.57 2063.21) scale(0.3268 0.2930)" font-size="100" stroke="#000" stroke-width="1.77">60</text>
<text transform="translate(980.52 2291.82) scale(0.3188 0.2831)" font-size="100" stroke="#000" stroke-width="1.83">0</text>
<text transform="translate(1000.17 2318.01) scale(0.3333 0.2930)" font-size="100" stroke="#000" stroke-width="1.76">0</text>
<text transform="translate(1131.78 2318.01) scale(0.3234 0.2930)" font-size="100" stroke="#000" stroke-width="1.78">250</text>
<text transform="translate(1282.21 2318.01) scale(0.3214 0.2930)" font-size="100" stroke="#000" stroke-width="1.79">500</text>
<text transform="translate(1087.48 2360.79) scale(0.3121 0.3005)" font-size="100" stroke="#000" stroke-width="1.8">Times (ms)</text>
<text transform="translate(942.99 2274.52) rotate(-90) scale(0.3146 0.3241)" font-size="100" stroke="#000" stroke-width="1.72">Firing rate (Hz)</text>
</svg>
</body></html>
